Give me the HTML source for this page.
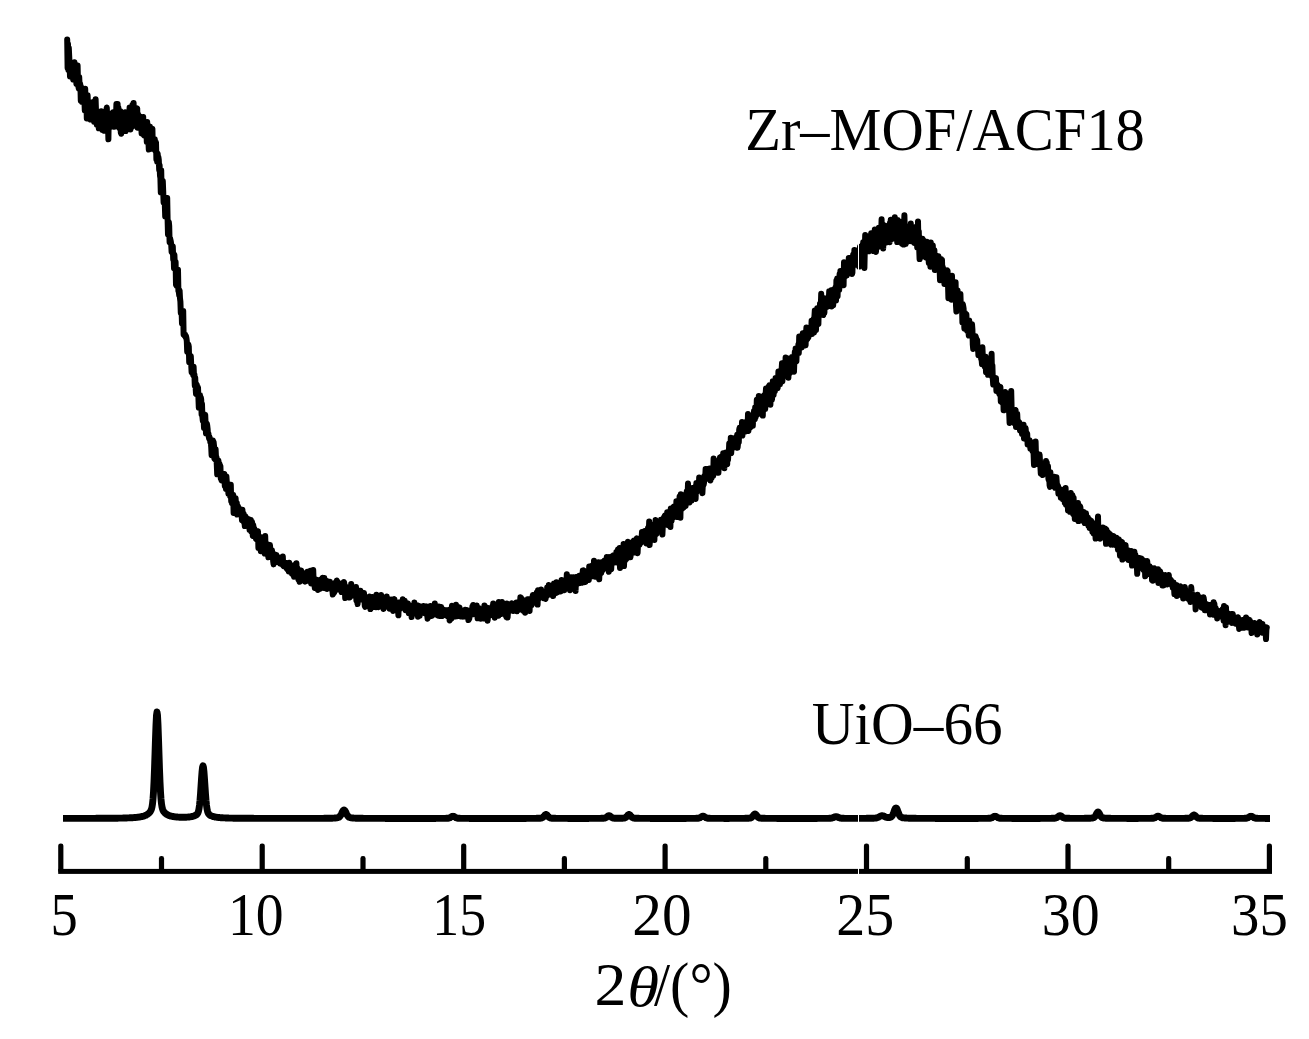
<!DOCTYPE html>
<html lang="en"><head><meta charset="utf-8"><title>XRD patterns</title>
<style>
html,body{margin:0;padding:0;background:#fff;}
body{width:1309px;height:1039px;overflow:hidden;}
svg{display:block;}
text{font-family:"Liberation Serif",serif;font-size:62px;fill:#000;}
</style></head><body>
<svg width="1309" height="1039" viewBox="0 0 1309 1039">
<rect width="1309" height="1039" fill="#fff"/>
<polyline fill="none" stroke="#000" stroke-width="6" stroke-linejoin="round" stroke-linecap="round" points="67.2,39.5 67.6,68.0 68.0,44.0 68.4,70.0 68.8,48.0 69.2,56.1 69.6,65.4 70.0,76.5 70.4,63.2 70.8,63.2 71.2,73.0 71.6,72.9 72.0,72.0 72.4,64.9 72.8,72.9 73.2,79.6 73.6,64.7 74.0,72.6 74.4,62.3 74.8,68.1 75.2,64.8 75.6,78.2 76.0,71.2 76.4,84.1 76.8,84.2 77.2,82.5 77.6,65.5 78.0,81.7 78.4,86.5 78.8,88.7 79.2,77.0 79.6,86.1 80.0,83.2 80.4,85.4 80.8,100.7 81.2,87.2 81.6,94.0 82.0,101.8 82.4,91.3 82.8,95.7 83.2,98.1 83.6,98.4 84.0,89.3 84.4,99.9 84.8,110.4 85.2,88.8 85.6,107.9 86.0,102.8 86.4,97.7 86.8,118.4 87.2,109.6 87.6,95.3 88.0,105.6 88.4,110.0 88.8,104.8 89.2,112.0 89.6,106.9 90.0,113.1 90.4,119.6 90.8,104.1 91.2,111.3 91.6,106.8 92.0,111.8 92.4,102.3 92.8,107.4 93.2,110.7 93.6,119.4 94.0,121.6 94.4,103.3 94.8,107.7 95.2,118.9 95.6,99.2 96.0,111.1 96.4,114.2 96.8,124.7 97.2,120.7 97.6,113.4 98.0,113.4 98.4,114.6 98.8,128.3 99.2,114.0 99.6,115.3 100.0,120.7 100.4,117.7 100.8,117.6 101.2,111.2 101.6,120.1 102.0,117.3 102.4,129.9 102.8,126.5 103.2,121.9 103.6,127.4 104.0,120.1 104.4,130.8 104.8,122.9 105.2,127.4 105.6,113.3 106.0,125.5 106.4,110.2 106.8,107.5 107.2,120.5 107.6,115.9 108.0,123.8 108.4,139.3 108.8,116.1 109.2,117.5 109.6,123.7 110.0,125.7 110.4,120.5 110.8,120.1 111.2,126.8 111.6,125.1 112.0,113.2 112.4,120.1 112.8,120.7 113.2,112.2 113.6,121.9 114.0,113.2 114.4,126.8 114.8,120.7 115.2,119.8 115.6,114.6 116.0,118.1 116.4,104.0 116.8,110.8 117.2,122.3 117.6,103.9 118.0,126.8 118.4,107.7 118.8,127.1 119.2,115.5 119.6,128.1 120.0,123.6 120.4,111.3 120.8,132.4 121.2,133.8 121.6,122.5 122.0,120.9 122.4,121.7 122.8,115.4 123.2,130.9 123.6,118.4 124.0,122.0 124.4,116.3 124.8,117.4 125.2,112.3 125.6,131.1 126.0,120.3 126.4,128.6 126.8,121.2 127.2,115.7 127.6,118.1 128.0,115.9 128.4,119.7 128.8,116.3 129.2,116.3 129.6,107.6 130.0,111.4 130.4,129.5 130.8,111.5 131.2,108.3 131.6,118.6 132.0,126.6 132.4,105.0 132.8,114.5 133.2,111.3 133.6,102.9 134.0,121.8 134.4,116.2 134.8,117.0 135.2,111.0 135.6,120.2 136.0,112.9 136.4,116.1 136.8,109.0 137.2,108.4 137.6,127.8 138.0,114.2 138.4,120.5 138.8,118.6 139.2,116.1 139.6,116.3 140.0,125.7 140.4,119.6 140.8,121.6 141.2,123.8 141.6,133.3 142.0,130.4 142.4,129.0 142.8,122.5 143.2,116.9 143.6,134.8 144.0,135.3 144.4,127.4 144.8,132.8 145.2,134.9 145.6,135.6 146.0,136.7 146.4,126.8 146.8,142.0 147.2,122.0 147.6,138.6 148.0,136.9 148.4,140.8 148.8,149.5 149.2,147.8 149.6,129.4 150.0,126.5 150.4,146.0 150.8,133.3 151.2,141.6 151.6,148.7 152.0,131.2 152.4,128.6 152.8,147.0 153.2,146.3 153.6,145.1 154.0,148.3 154.4,142.8 154.8,139.2 155.2,150.3 155.6,145.7 156.0,142.2 156.4,159.4 156.8,156.8 157.2,161.8 157.6,153.4 158.0,157.6 158.4,157.1 158.8,160.0 159.2,170.0 159.6,165.2 160.0,175.7 160.4,177.9 160.8,192.3 161.2,170.3 161.6,189.2 162.0,184.9 162.4,188.3 162.8,181.0 163.2,191.0 163.6,202.4 164.0,199.5 164.4,203.5 164.8,203.6 165.2,216.4 165.6,210.7 166.0,198.0 166.4,210.9 166.8,204.5 167.2,198.1 167.6,219.2 168.0,234.4 168.4,227.9 168.8,221.9 169.2,225.8 169.6,242.3 170.0,238.1 170.4,239.7 170.8,241.4 171.2,244.4 171.6,251.9 172.0,252.6 172.4,252.7 172.8,246.6 173.2,259.4 173.6,253.8 174.0,268.1 174.4,254.9 174.8,264.8 175.2,268.2 175.6,262.1 176.0,284.7 176.4,285.6 176.8,275.6 177.2,286.3 177.6,286.4 178.0,269.8 178.4,290.9 178.8,291.6 179.2,295.2 179.6,290.5 180.0,298.3 180.4,301.6 180.8,313.0 181.2,310.3 181.6,311.0 182.0,323.5 182.4,313.2 182.8,317.1 183.2,310.9 183.6,334.5 184.0,333.3 184.4,335.4 184.8,336.1 185.2,334.7 185.6,337.2 186.0,336.0 186.4,338.0 186.8,341.1 187.2,351.6 187.6,347.5 188.0,345.6 188.4,344.6 188.8,346.5 189.2,362.2 189.6,358.1 190.0,358.0 190.4,358.0 190.8,355.9 191.2,364.4 191.6,372.1 192.0,366.7 192.4,369.5 192.8,371.3 193.2,375.0 193.6,366.7 194.0,376.2 194.4,374.1 194.8,385.7 195.2,377.7 195.6,386.9 196.0,393.9 196.4,384.9 196.8,384.8 197.2,390.9 197.6,391.4 198.0,387.4 198.4,397.2 198.8,407.6 199.2,396.3 199.6,398.3 200.0,395.1 200.4,404.4 200.8,397.2 201.2,399.6 201.6,414.5 202.0,404.0 202.4,416.6 202.8,420.6 203.2,415.3 203.6,418.6 204.0,427.8 204.4,417.7 204.8,417.2 205.2,414.7 205.6,423.9 206.0,433.3 206.4,432.1 206.8,423.4 207.2,425.4 207.6,428.8 208.0,434.6 208.4,433.4 208.8,437.0 209.2,438.9 209.6,437.1 210.0,439.8 210.4,442.5 210.8,442.3 211.2,446.7 211.6,455.2 212.0,449.8 212.4,448.3 212.8,440.5 213.2,452.5 213.6,441.7 214.0,445.7 214.4,458.6 214.8,459.1 215.2,456.0 215.6,449.2 216.0,457.3 216.4,457.0 216.8,464.9 217.2,474.3 217.6,465.2 218.0,461.3 218.4,460.5 218.8,467.3 219.2,467.8 219.6,464.0 220.0,471.5 220.4,466.2 220.8,478.6 221.2,479.3 221.6,480.4 222.0,473.6 222.4,479.5 222.8,477.2 223.2,476.8 223.6,477.9 224.0,473.9 224.4,474.0 224.8,485.8 225.2,481.7 225.6,484.5 226.0,489.1 226.4,476.5 226.8,481.9 227.2,487.3 227.6,489.1 228.0,486.1 228.4,493.7 228.8,490.5 229.2,484.4 229.6,486.7 230.0,495.9 230.4,495.1 230.8,484.7 231.2,501.2 231.6,498.6 232.0,503.2 232.4,496.0 232.8,497.5 233.2,494.6 233.6,513.0 234.0,501.2 234.4,510.6 234.8,501.1 235.2,505.9 235.6,498.2 236.0,505.2 236.4,512.5 236.8,502.9 237.2,514.6 237.6,511.9 238.0,506.2 238.4,509.3 238.8,510.1 239.2,512.6 239.6,510.9 240.0,510.1 240.4,513.0 240.8,510.2 241.2,509.4 241.6,515.6 242.0,520.3 242.4,509.7 242.8,517.1 243.2,514.6 243.6,513.5 244.0,522.3 244.4,516.5 244.8,526.1 245.2,516.2 245.6,522.0 246.0,519.7 246.4,517.8 246.8,524.4 247.2,521.6 247.6,525.6 248.0,523.2 248.4,519.1 248.8,524.1 249.2,525.4 249.6,530.1 250.0,522.4 250.4,526.9 250.8,520.0 251.2,531.3 251.6,524.2 252.0,521.6 252.4,530.1 252.8,535.9 253.2,524.9 253.6,527.5 254.0,529.7 254.4,528.6 254.8,535.9 255.2,531.4 255.6,532.4 256.0,538.8 256.4,533.5 256.8,539.4 257.2,533.8 257.6,533.4 258.0,531.3 258.4,547.9 258.8,539.0 259.2,542.0 259.6,541.3 260.0,542.7 260.4,542.7 260.8,551.2 261.2,539.0 261.6,537.3 262.0,540.1 262.4,539.2 262.8,548.6 263.2,549.4 263.6,542.2 264.0,540.8 264.4,545.7 264.8,553.6 265.2,536.1 265.6,550.8 266.0,544.4 266.4,553.8 266.8,545.2 267.2,549.0 267.6,544.3 268.0,546.9 268.4,557.3 268.8,555.3 269.2,550.6 269.6,549.0 270.0,545.1 270.4,551.8 270.8,553.7 271.2,553.9 271.6,554.3 272.0,550.3 272.4,555.1 272.8,555.6 273.2,561.6 273.6,564.4 274.0,556.4 274.4,554.1 274.8,557.4 275.2,555.6 275.6,555.4 276.0,558.6 276.4,554.9 276.8,562.1 277.2,559.5 277.6,561.4 278.0,560.0 278.4,558.1 278.8,557.5 279.2,560.8 279.6,559.9 280.0,563.5 280.4,562.9 280.8,557.6 281.2,563.8 281.6,558.4 282.0,561.7 282.4,563.4 282.8,556.4 283.2,565.6 283.6,566.1 284.0,565.2 284.4,564.4 284.8,564.9 285.2,562.8 285.6,565.9 286.0,565.1 286.4,568.0 286.8,563.0 287.2,569.1 287.6,569.0 288.0,568.1 288.4,567.1 288.8,571.4 289.2,562.7 289.6,571.5 290.0,570.8 290.4,571.2 290.8,571.9 291.2,567.9 291.6,569.7 292.0,573.6 292.4,572.9 292.8,572.3 293.2,565.6 293.6,574.0 294.0,576.7 294.4,576.3 294.8,573.4 295.2,566.5 295.6,576.6 296.0,572.5 296.4,563.2 296.8,575.0 297.2,567.7 297.6,568.7 298.0,571.5 298.4,579.3 298.8,573.0 299.2,575.7 299.6,581.8 300.0,581.3 300.4,574.8 300.8,574.4 301.2,570.6 301.6,573.0 302.0,577.6 302.4,577.7 302.8,576.7 303.2,580.4 303.6,573.6 304.0,576.6 304.4,579.9 304.8,579.5 305.2,581.6 305.6,579.1 306.0,576.5 306.4,579.4 306.8,574.2 307.2,571.8 307.6,580.7 308.0,578.4 308.4,580.0 308.8,572.3 309.2,577.7 309.6,576.9 310.0,576.1 310.4,570.8 310.8,578.5 311.2,583.5 311.6,581.6 312.0,577.9 312.4,580.3 312.8,583.5 313.2,569.9 313.6,580.4 314.0,583.1 314.4,583.8 314.8,587.9 315.2,585.8 315.6,582.8 316.0,582.9 316.4,584.9 316.8,579.8 317.2,581.9 317.6,585.7 318.0,589.9 318.4,581.8 318.8,582.4 319.2,583.4 319.6,588.0 320.0,582.8 320.4,588.7 320.8,579.4 321.2,582.5 321.6,582.5 322.0,586.5 322.4,587.6 322.8,577.8 323.2,580.2 323.6,585.1 324.0,581.4 324.4,578.1 324.8,588.1 325.2,586.1 325.6,586.2 326.0,582.6 326.4,588.5 326.8,583.7 327.2,588.9 327.6,581.3 328.0,581.6 328.4,585.7 328.8,582.3 329.2,587.7 329.6,586.2 330.0,581.8 330.4,585.7 330.8,584.1 331.2,589.1 331.6,583.2 332.0,584.1 332.4,590.5 332.8,594.6 333.2,593.7 333.6,586.4 334.0,587.1 334.4,592.2 334.8,585.9 335.2,582.7 335.6,587.0 336.0,588.3 336.4,583.5 336.8,580.5 337.2,581.3 337.6,589.5 338.0,584.1 338.4,586.5 338.8,587.9 339.2,589.6 339.6,586.0 340.0,589.2 340.4,584.0 340.8,586.1 341.2,583.6 341.6,592.0 342.0,587.6 342.4,585.0 342.8,586.5 343.2,587.1 343.6,590.7 344.0,582.1 344.4,584.3 344.8,586.9 345.2,598.1 345.6,592.2 346.0,588.3 346.4,591.5 346.8,596.8 347.2,588.2 347.6,587.8 348.0,594.0 348.4,591.5 348.8,592.4 349.2,588.2 349.6,597.6 350.0,597.1 350.4,593.0 350.8,593.8 351.2,583.9 351.6,594.3 352.0,591.5 352.4,594.2 352.8,595.4 353.2,591.9 353.6,587.2 354.0,595.3 354.4,591.5 354.8,593.4 355.2,592.7 355.6,594.0 356.0,587.0 356.4,600.4 356.8,597.1 357.2,600.6 357.6,604.1 358.0,597.1 358.4,590.6 358.8,594.2 359.2,593.2 359.6,596.0 360.0,598.3 360.4,590.7 360.8,599.5 361.2,592.8 361.6,599.6 362.0,598.3 362.4,597.6 362.8,598.6 363.2,597.0 363.6,596.9 364.0,593.0 364.4,599.2 364.8,606.2 365.2,606.8 365.6,604.5 366.0,602.3 366.4,597.4 366.8,605.2 367.2,599.8 367.6,599.9 368.0,599.1 368.4,600.6 368.8,598.8 369.2,600.2 369.6,596.6 370.0,599.3 370.4,609.1 370.8,600.5 371.2,600.0 371.6,602.9 372.0,603.6 372.4,597.0 372.8,600.4 373.2,604.6 373.6,602.3 374.0,601.8 374.4,607.1 374.8,599.0 375.2,601.9 375.6,599.8 376.0,607.2 376.4,594.7 376.8,599.4 377.2,600.0 377.6,604.4 378.0,604.3 378.4,607.2 378.8,596.5 379.2,605.0 379.6,601.3 380.0,600.0 380.4,604.5 380.8,599.2 381.2,595.1 381.6,601.4 382.0,597.4 382.4,600.5 382.8,604.3 383.2,604.2 383.6,608.9 384.0,602.5 384.4,597.7 384.8,600.6 385.2,600.1 385.6,599.1 386.0,605.2 386.4,601.3 386.8,596.6 387.2,606.4 387.6,603.5 388.0,605.3 388.4,604.5 388.8,606.4 389.2,604.4 389.6,608.8 390.0,605.9 390.4,605.9 390.8,606.0 391.2,599.4 391.6,604.1 392.0,603.9 392.4,605.6 392.8,600.0 393.2,610.9 393.6,605.5 394.0,600.8 394.4,599.1 394.8,604.3 395.2,605.1 395.6,602.9 396.0,605.9 396.4,603.3 396.8,607.7 397.2,603.2 397.6,605.7 398.0,609.5 398.4,615.3 398.8,602.5 399.2,604.5 399.6,603.2 400.0,609.1 400.4,602.3 400.8,604.7 401.2,606.4 401.6,603.1 402.0,603.2 402.4,605.0 402.8,599.3 403.2,601.7 403.6,605.5 404.0,607.6 404.4,606.4 404.8,600.8 405.2,605.6 405.6,610.2 406.0,609.4 406.4,607.1 406.8,604.3 407.2,609.8 407.6,605.6 408.0,603.5 408.4,604.9 408.8,613.0 409.2,608.7 409.6,612.1 410.0,606.3 410.4,611.4 410.8,606.0 411.2,607.6 411.6,617.1 412.0,611.0 412.4,606.6 412.8,608.1 413.2,609.7 413.6,612.9 414.0,606.9 414.4,602.5 414.8,607.7 415.2,608.8 415.6,609.2 416.0,613.6 416.4,610.1 416.8,611.9 417.2,605.2 417.6,612.2 418.0,616.7 418.4,612.0 418.8,610.2 419.2,609.9 419.6,615.8 420.0,606.2 420.4,609.1 420.8,611.2 421.2,612.3 421.6,608.1 422.0,610.8 422.4,608.8 422.8,610.3 423.2,609.4 423.6,605.9 424.0,609.9 424.4,613.2 424.8,606.7 425.2,609.3 425.6,612.6 426.0,606.5 426.4,611.0 426.8,606.6 427.2,614.4 427.6,618.7 428.0,617.7 428.4,609.8 428.8,613.2 429.2,611.1 429.6,611.0 430.0,616.2 430.4,606.1 430.8,614.5 431.2,610.7 431.6,615.9 432.0,611.6 432.4,608.6 432.8,612.0 433.2,613.6 433.6,611.2 434.0,612.8 434.4,609.3 434.8,603.6 435.2,614.4 435.6,613.7 436.0,611.8 436.4,611.5 436.8,615.0 437.2,609.8 437.6,608.9 438.0,610.8 438.4,615.7 438.8,606.6 439.2,615.8 439.6,609.3 440.0,607.7 440.4,616.1 440.8,611.3 441.2,607.1 441.6,610.5 442.0,615.1 442.4,616.0 442.8,610.3 443.2,613.3 443.6,614.4 444.0,609.7 444.4,613.2 444.8,611.9 445.2,610.2 445.6,610.4 446.0,612.4 446.4,612.3 446.8,610.2 447.2,610.7 447.6,616.2 448.0,613.0 448.4,615.4 448.8,616.6 449.2,614.4 449.6,620.4 450.0,609.5 450.4,615.3 450.8,611.4 451.2,619.0 451.6,618.5 452.0,605.7 452.4,609.2 452.8,614.9 453.2,615.4 453.6,615.2 454.0,612.4 454.4,614.3 454.8,615.0 455.2,612.5 455.6,616.4 456.0,604.8 456.4,615.0 456.8,609.2 457.2,616.2 457.6,612.0 458.0,609.7 458.4,614.2 458.8,609.7 459.2,609.7 459.6,607.4 460.0,612.8 460.4,614.7 460.8,616.5 461.2,612.5 461.6,616.6 462.0,613.0 462.4,612.7 462.8,615.0 463.2,616.7 463.6,611.8 464.0,612.1 464.4,612.4 464.8,613.3 465.2,609.8 465.6,616.6 466.0,611.6 466.4,614.6 466.8,610.1 467.2,614.3 467.6,614.4 468.0,611.5 468.4,620.1 468.8,614.3 469.2,619.2 469.6,616.3 470.0,610.6 470.4,611.6 470.8,614.5 471.2,613.1 471.6,613.1 472.0,611.9 472.4,606.5 472.8,612.1 473.2,605.1 473.6,614.2 474.0,610.3 474.4,610.3 474.8,612.1 475.2,613.8 475.6,607.8 476.0,606.6 476.4,609.0 476.8,605.6 477.2,609.3 477.6,618.3 478.0,609.0 478.4,615.0 478.8,607.9 479.2,613.7 479.6,611.5 480.0,612.4 480.4,614.6 480.8,618.8 481.2,613.3 481.6,613.0 482.0,609.1 482.4,614.6 482.8,611.6 483.2,615.4 483.6,612.3 484.0,618.6 484.4,605.4 484.8,611.4 485.2,615.5 485.6,611.1 486.0,609.5 486.4,611.3 486.8,607.4 487.2,612.6 487.6,620.7 488.0,616.1 488.4,608.2 488.8,608.9 489.2,610.5 489.6,615.5 490.0,609.0 490.4,609.4 490.8,614.9 491.2,614.8 491.6,610.3 492.0,607.6 492.4,606.1 492.8,609.0 493.2,603.5 493.6,614.0 494.0,609.0 494.4,612.9 494.8,617.7 495.2,615.2 495.6,606.9 496.0,614.0 496.4,614.9 496.8,608.1 497.2,607.3 497.6,610.2 498.0,604.9 498.4,615.7 498.8,601.9 499.2,606.4 499.6,609.3 500.0,609.3 500.4,610.7 500.8,610.9 501.2,609.1 501.6,613.9 502.0,602.1 502.4,609.7 502.8,607.0 503.2,610.0 503.6,610.2 504.0,606.1 504.4,606.9 504.8,612.0 505.2,610.3 505.6,606.5 506.0,616.1 506.4,617.0 506.8,603.5 507.2,609.7 507.6,617.5 508.0,611.2 508.4,609.1 508.8,607.5 509.2,606.2 509.6,607.3 510.0,606.0 510.4,610.6 510.8,606.4 511.2,606.2 511.6,603.3 512.0,607.4 512.4,604.3 512.8,606.7 513.2,611.0 513.6,608.5 514.0,608.9 514.4,608.3 514.8,607.1 515.2,606.3 515.6,605.6 516.0,609.3 516.4,602.6 516.8,611.2 517.2,606.4 517.6,603.5 518.0,604.3 518.4,603.5 518.8,606.4 519.2,603.1 519.6,609.7 520.0,602.7 520.4,597.2 520.8,602.6 521.2,597.9 521.6,604.9 522.0,608.7 522.4,607.1 522.8,599.8 523.2,601.8 523.6,610.8 524.0,605.4 524.4,604.2 524.8,607.8 525.2,612.8 525.6,608.4 526.0,604.1 526.4,604.8 526.8,605.6 527.2,601.0 527.6,599.2 528.0,603.1 528.4,599.3 528.8,602.4 529.2,602.8 529.6,610.9 530.0,599.1 530.4,601.6 530.8,601.3 531.2,603.3 531.6,605.4 532.0,599.6 532.4,598.2 532.8,595.1 533.2,597.5 533.6,602.7 534.0,600.7 534.4,596.7 534.8,598.8 535.2,600.1 535.6,601.6 536.0,597.4 536.4,598.4 536.8,592.4 537.2,594.6 537.6,604.6 538.0,590.3 538.4,596.9 538.8,598.7 539.2,596.3 539.6,594.4 540.0,597.0 540.4,596.9 540.8,596.4 541.2,589.4 541.6,595.6 542.0,592.7 542.4,593.6 542.8,596.2 543.2,597.5 543.6,598.2 544.0,592.7 544.4,597.8 544.8,598.4 545.2,598.1 545.6,598.8 546.0,592.7 546.4,592.4 546.8,595.9 547.2,587.4 547.6,593.1 548.0,590.1 548.4,590.5 548.8,585.1 549.2,588.1 549.6,591.1 550.0,594.4 550.4,594.5 550.8,590.3 551.2,589.7 551.6,587.1 552.0,591.5 552.4,588.9 552.8,591.9 553.2,596.1 553.6,589.1 554.0,583.4 554.4,585.6 554.8,583.2 555.2,584.0 555.6,593.3 556.0,589.1 556.4,582.2 556.8,590.3 557.2,592.5 557.6,586.1 558.0,584.7 558.4,585.9 558.8,588.1 559.2,589.3 559.6,591.2 560.0,591.1 560.4,590.9 560.8,591.4 561.2,588.5 561.6,579.9 562.0,585.2 562.4,586.7 562.8,583.9 563.2,588.7 563.6,583.6 564.0,581.3 564.4,590.2 564.8,587.1 565.2,585.2 565.6,587.8 566.0,588.1 566.4,585.2 566.8,574.2 567.2,580.9 567.6,581.6 568.0,579.4 568.4,583.8 568.8,587.5 569.2,580.8 569.6,578.1 570.0,590.2 570.4,580.4 570.8,577.2 571.2,582.7 571.6,583.3 572.0,578.7 572.4,584.4 572.8,579.2 573.2,577.3 573.6,581.4 574.0,583.6 574.4,577.9 574.8,581.5 575.2,579.6 575.6,590.9 576.0,576.9 576.4,584.9 576.8,579.1 577.2,578.6 577.6,581.7 578.0,582.2 578.4,583.5 578.8,579.6 579.2,575.8 579.6,575.8 580.0,579.8 580.4,579.9 580.8,582.9 581.2,578.9 581.6,581.2 582.0,582.8 582.4,577.3 582.8,570.6 583.2,571.6 583.6,570.4 584.0,582.2 584.4,572.3 584.8,580.4 585.2,577.6 585.6,581.9 586.0,578.9 586.4,574.3 586.8,573.8 587.2,574.7 587.6,574.9 588.0,571.9 588.4,573.7 588.8,580.0 589.2,566.6 589.6,574.2 590.0,569.4 590.4,573.6 590.8,576.0 591.2,572.2 591.6,575.3 592.0,565.7 592.4,576.3 592.8,569.2 593.2,573.9 593.6,572.0 594.0,560.7 594.4,567.8 594.8,571.5 595.2,576.7 595.6,571.4 596.0,571.1 596.4,564.1 596.8,575.4 597.2,576.7 597.6,569.3 598.0,568.1 598.4,562.3 598.8,572.2 599.2,579.3 599.6,571.1 600.0,573.1 600.4,570.0 600.8,563.6 601.2,572.8 601.6,562.2 602.0,566.1 602.4,567.9 602.8,570.2 603.2,568.1 603.6,567.7 604.0,562.9 604.4,560.5 604.8,565.8 605.2,562.4 605.6,559.8 606.0,559.8 606.4,562.7 606.8,556.9 607.2,558.8 607.6,557.4 608.0,564.6 608.4,565.4 608.8,571.7 609.2,557.1 609.6,560.3 610.0,566.6 610.4,561.7 610.8,561.1 611.2,569.2 611.6,560.6 612.0,557.0 612.4,556.1 612.8,562.7 613.2,562.4 613.6,555.2 614.0,556.6 614.4,562.6 614.8,562.6 615.2,557.3 615.6,562.3 616.0,561.9 616.4,551.9 616.8,557.7 617.2,560.5 617.6,556.1 618.0,549.4 618.4,556.8 618.8,560.9 619.2,564.1 619.6,548.1 620.0,567.9 620.4,552.0 620.8,560.5 621.2,561.4 621.6,560.0 622.0,556.3 622.4,550.5 622.8,557.7 623.2,551.8 623.6,543.9 624.0,566.1 624.4,556.9 624.8,561.2 625.2,549.4 625.6,559.1 626.0,559.4 626.4,558.9 626.8,551.9 627.2,546.6 627.6,550.6 628.0,541.7 628.4,543.5 628.8,550.8 629.2,545.9 629.6,549.0 630.0,548.9 630.4,557.3 630.8,554.3 631.2,548.2 631.6,553.2 632.0,544.4 632.4,545.9 632.8,550.9 633.2,541.4 633.6,545.2 634.0,540.4 634.4,546.2 634.8,552.4 635.2,541.8 635.6,545.6 636.0,540.5 636.4,539.0 636.8,538.3 637.2,549.6 637.6,553.2 638.0,544.7 638.4,539.2 638.8,545.0 639.2,540.2 639.6,544.8 640.0,542.3 640.4,541.9 640.8,543.0 641.2,537.5 641.6,537.9 642.0,531.9 642.4,537.1 642.8,532.5 643.2,537.8 643.6,533.9 644.0,538.2 644.4,539.5 644.8,530.9 645.2,533.3 645.6,532.4 646.0,539.5 646.4,543.4 646.8,539.3 647.2,533.7 647.6,541.4 648.0,528.0 648.4,540.9 648.8,531.1 649.2,521.4 649.6,545.1 650.0,540.0 650.4,528.1 650.8,533.1 651.2,531.1 651.6,532.2 652.0,524.8 652.4,528.1 652.8,532.9 653.2,531.4 653.6,535.5 654.0,530.2 654.4,539.9 654.8,526.0 655.2,530.0 655.6,519.9 656.0,522.5 656.4,533.8 656.8,523.3 657.2,529.5 657.6,526.5 658.0,521.8 658.4,524.5 658.8,523.5 659.2,523.2 659.6,528.5 660.0,527.6 660.4,521.8 660.8,519.9 661.2,524.9 661.6,522.8 662.0,527.6 662.4,534.6 662.8,526.0 663.2,521.7 663.6,520.7 664.0,517.2 664.4,516.6 664.8,515.7 665.2,518.1 665.6,517.5 666.0,522.5 666.4,516.9 666.8,517.4 667.2,512.3 667.6,525.0 668.0,519.4 668.4,524.8 668.8,519.9 669.2,522.6 669.6,514.2 670.0,518.2 670.4,526.9 670.8,508.4 671.2,519.0 671.6,521.0 672.0,514.7 672.4,515.9 672.8,517.8 673.2,508.3 673.6,512.9 674.0,506.4 674.4,506.9 674.8,506.7 675.2,508.6 675.6,509.5 676.0,510.5 676.4,501.2 676.8,517.0 677.2,512.6 677.6,510.1 678.0,504.5 678.4,505.3 678.8,508.0 679.2,506.9 679.6,496.4 680.0,507.6 680.4,517.7 680.8,494.3 681.2,507.6 681.6,504.2 682.0,501.5 682.4,508.3 682.8,495.5 683.2,501.6 683.6,507.5 684.0,499.1 684.4,497.6 684.8,499.8 685.2,496.7 685.6,506.0 686.0,493.7 686.4,502.0 686.8,491.2 687.2,500.3 687.6,496.1 688.0,483.6 688.4,495.9 688.8,490.3 689.2,493.0 689.6,502.4 690.0,488.9 690.4,488.8 690.8,500.8 691.2,493.9 691.6,500.6 692.0,494.2 692.4,487.9 692.8,491.6 693.2,497.6 693.6,495.8 694.0,490.8 694.4,490.7 694.8,489.5 695.2,486.8 695.6,498.9 696.0,489.0 696.4,482.9 696.8,485.8 697.2,491.4 697.6,490.6 698.0,486.3 698.4,483.3 698.8,486.3 699.2,477.4 699.6,478.9 700.0,489.0 700.4,482.2 700.8,486.1 701.2,489.9 701.6,486.6 702.0,483.0 702.4,493.2 702.8,485.5 703.2,479.9 703.6,484.9 704.0,482.9 704.4,476.0 704.8,480.3 705.2,478.7 705.6,469.1 706.0,477.7 706.4,476.7 706.8,475.5 707.2,468.9 707.6,475.0 708.0,476.2 708.4,476.5 708.8,469.7 709.2,478.3 709.6,468.4 710.0,473.0 710.4,480.4 710.8,469.7 711.2,470.1 711.6,477.8 712.0,469.9 712.4,469.9 712.8,472.1 713.2,475.9 713.6,458.6 714.0,465.2 714.4,463.9 714.8,463.0 715.2,463.7 715.6,463.3 716.0,468.7 716.4,462.1 716.8,466.9 717.2,467.8 717.6,461.5 718.0,465.5 718.4,472.8 718.8,465.5 719.2,460.1 719.6,462.6 720.0,457.6 720.4,463.3 720.8,466.0 721.2,456.7 721.6,459.4 722.0,465.8 722.4,456.9 722.8,460.0 723.2,453.2 723.6,453.7 724.0,454.8 724.4,468.2 724.8,454.4 725.2,453.3 725.6,452.6 726.0,454.2 726.4,457.9 726.8,455.0 727.2,464.1 727.6,454.1 728.0,460.0 728.4,453.4 728.8,454.6 729.2,443.5 729.6,449.8 730.0,449.6 730.4,448.1 730.8,437.7 731.2,453.0 731.6,445.8 732.0,445.0 732.4,445.5 732.8,445.1 733.2,447.9 733.6,438.5 734.0,439.8 734.4,445.7 734.8,444.4 735.2,441.1 735.6,439.5 736.0,437.6 736.4,441.1 736.8,447.1 737.2,434.7 737.6,447.8 738.0,443.7 738.4,436.2 738.8,442.2 739.2,429.7 739.6,427.8 740.0,429.5 740.4,433.6 740.8,433.5 741.2,431.9 741.6,434.6 742.0,422.1 742.4,435.6 742.8,424.8 743.2,428.3 743.6,429.0 744.0,424.5 744.4,422.7 744.8,424.1 745.2,428.9 745.6,431.5 746.0,430.8 746.4,421.8 746.8,422.4 747.2,421.1 747.6,427.9 748.0,413.9 748.4,431.0 748.8,421.1 749.2,418.9 749.6,424.4 750.0,427.6 750.4,423.3 750.8,426.6 751.2,421.0 751.6,426.4 752.0,425.9 752.4,418.0 752.8,425.8 753.2,418.2 753.6,417.2 754.0,411.1 754.4,414.0 754.8,419.2 755.2,407.2 755.6,417.4 756.0,415.1 756.4,414.1 756.8,399.8 757.2,410.8 757.6,414.4 758.0,406.0 758.4,410.1 758.8,395.9 759.2,412.1 759.6,404.2 760.0,412.1 760.4,396.4 760.8,409.9 761.2,404.1 761.6,409.3 762.0,399.1 762.4,400.2 762.8,415.6 763.2,397.8 763.6,397.9 764.0,399.7 764.4,394.9 764.8,406.7 765.2,409.1 765.6,394.9 766.0,388.6 766.4,404.3 766.8,403.3 767.2,401.1 767.6,402.4 768.0,390.4 768.4,393.8 768.8,386.3 769.2,385.5 769.6,398.5 770.0,388.5 770.4,404.7 770.8,391.6 771.2,387.0 771.6,394.6 772.0,399.7 772.4,391.6 772.8,381.3 773.2,389.8 773.6,395.0 774.0,383.8 774.4,381.6 774.8,391.3 775.2,385.7 775.6,378.0 776.0,381.6 776.4,378.9 776.8,384.4 777.2,382.8 777.6,388.3 778.0,385.2 778.4,371.5 778.8,382.4 779.2,384.7 779.6,381.6 780.0,384.4 780.4,374.7 780.8,371.9 781.2,382.2 781.6,370.1 782.0,363.2 782.4,381.2 782.8,370.5 783.2,372.4 783.6,365.5 784.0,365.4 784.4,365.8 784.8,369.9 785.2,373.6 785.6,357.5 786.0,374.8 786.4,362.9 786.8,363.0 787.2,372.7 787.6,367.7 788.0,358.5 788.4,377.8 788.8,361.4 789.2,367.3 789.6,366.4 790.0,373.0 790.4,361.4 790.8,369.4 791.2,358.5 791.6,368.8 792.0,357.1 792.4,358.8 792.8,371.5 793.2,361.6 793.6,359.7 794.0,371.7 794.4,359.8 794.8,352.1 795.2,360.7 795.6,348.5 796.0,361.6 796.4,361.3 796.8,350.0 797.2,348.9 797.6,352.9 798.0,351.2 798.4,344.5 798.8,353.0 799.2,336.5 799.6,345.4 800.0,344.8 800.4,344.8 800.8,347.5 801.2,337.4 801.6,347.6 802.0,342.1 802.4,338.4 802.8,333.3 803.2,333.6 803.6,342.1 804.0,333.2 804.4,338.7 804.8,343.9 805.2,343.0 805.6,345.4 806.0,333.2 806.4,327.6 806.8,339.6 807.2,334.5 807.6,338.7 808.0,331.0 808.4,337.5 808.8,334.6 809.2,333.0 809.6,330.9 810.0,329.5 810.4,327.7 810.8,326.9 811.2,330.9 811.6,320.8 812.0,334.0 812.4,321.9 812.8,327.9 813.2,320.5 813.6,318.8 814.0,332.3 814.4,317.1 814.8,310.4 815.2,313.2 815.6,315.0 816.0,329.8 816.4,317.0 816.8,320.9 817.2,308.2 817.6,316.1 818.0,317.4 818.4,323.9 818.8,307.6 819.2,315.2 819.6,312.7 820.0,303.8 820.4,309.5 820.8,307.4 821.2,293.8 821.6,311.7 822.0,310.7 822.4,304.0 822.8,297.7 823.2,315.0 823.6,306.7 824.0,310.9 824.4,312.8 824.8,300.0 825.2,307.9 825.6,300.7 826.0,301.2 826.4,300.5 826.8,300.5 827.2,307.0 827.6,300.1 828.0,297.8 828.4,296.4 828.8,299.8 829.2,291.3 829.6,293.3 830.0,295.6 830.4,291.7 830.8,293.9 831.2,290.2 831.6,306.4 832.0,301.4 832.4,295.2 832.8,291.4 833.2,305.2 833.6,292.6 834.0,289.3 834.4,291.2 834.8,290.6 835.2,297.1 835.6,287.3 836.0,300.4 836.4,280.5 836.8,290.1 837.2,278.5 837.6,296.1 838.0,281.6 838.4,282.8 838.8,288.5 839.2,290.1 839.6,274.1 840.0,278.4 840.4,271.0 840.8,280.4 841.2,278.2 841.6,276.0 842.0,273.2 842.4,274.6 842.8,271.7 843.2,279.4 843.6,285.3 844.0,262.2 844.4,273.5 844.8,270.9 845.2,276.3 845.6,266.3 846.0,271.0 846.4,264.6 846.8,275.5 847.2,271.0 847.6,268.7 848.0,271.7 848.4,267.1 848.8,257.9 849.2,271.5 849.6,269.0 850.0,265.5 850.4,272.5 850.8,273.5 851.2,257.7 851.6,259.2 852.0,274.0 852.4,272.7 852.8,257.9 853.2,254.4 853.6,257.5 854.0,257.9 854.4,250.1 854.8,260.4 855.2,251.1 855.6,251.1 856.0,264.7 856.4,253.6 856.8,257.2 857.2,261.4 857.6,262.1 858.0,254.0 858.4,256.1 858.8,249.8 859.2,266.6 859.6,258.8 860.0,246.7 860.4,253.6 860.8,258.0 861.2,256.0 861.6,264.6 862.0,261.2 862.4,248.0 862.8,250.6 863.2,242.3 863.6,252.2 864.0,251.1 864.4,267.9 864.8,250.0 865.2,235.0 865.6,244.2 866.0,249.1 866.4,239.5 866.8,241.8 867.2,244.9 867.6,249.3 868.0,245.5 868.4,240.3 868.8,251.3 869.2,242.0 869.6,242.0 870.0,235.7 870.4,239.4 870.8,248.8 871.2,233.2 871.6,243.3 872.0,248.3 872.4,240.6 872.8,244.5 873.2,235.0 873.6,251.1 874.0,249.4 874.4,243.2 874.8,229.4 875.2,233.9 875.6,247.3 876.0,252.0 876.4,242.1 876.8,248.2 877.2,235.3 877.6,237.8 878.0,238.8 878.4,241.3 878.8,227.7 879.2,244.1 879.6,246.3 880.0,229.2 880.4,227.4 880.8,238.6 881.2,231.4 881.6,219.3 882.0,240.6 882.4,235.8 882.8,231.1 883.2,248.4 883.6,234.5 884.0,228.1 884.4,233.6 884.8,225.4 885.2,227.0 885.6,234.5 886.0,227.8 886.4,228.2 886.8,242.4 887.2,236.6 887.6,236.0 888.0,233.8 888.4,233.3 888.8,239.8 889.2,229.5 889.6,242.2 890.0,222.8 890.4,227.5 890.8,219.7 891.2,226.7 891.6,232.6 892.0,238.9 892.4,224.5 892.8,229.0 893.2,226.6 893.6,224.0 894.0,220.9 894.4,229.5 894.8,217.2 895.2,229.9 895.6,229.3 896.0,224.7 896.4,222.3 896.8,219.8 897.2,242.1 897.6,220.1 898.0,240.0 898.4,233.5 898.8,227.0 899.2,221.6 899.6,236.7 900.0,241.5 900.4,223.3 900.8,227.7 901.2,237.0 901.6,232.2 902.0,243.6 902.4,226.1 902.8,233.8 903.2,221.6 903.6,244.6 904.0,225.3 904.4,215.3 904.8,229.6 905.2,229.6 905.6,243.8 906.0,228.5 906.4,230.8 906.8,235.0 907.2,241.9 907.6,230.7 908.0,238.4 908.4,235.0 908.8,229.7 909.2,232.4 909.6,232.3 910.0,226.1 910.4,241.0 910.8,223.5 911.2,241.3 911.6,240.1 912.0,233.3 912.4,229.1 912.8,233.2 913.2,238.3 913.6,240.6 914.0,237.9 914.4,243.1 914.8,233.0 915.2,238.8 915.6,227.0 916.0,243.3 916.4,239.6 916.8,236.2 917.2,247.4 917.6,244.6 918.0,221.4 918.4,241.2 918.8,231.5 919.2,249.1 919.6,259.1 920.0,239.3 920.4,243.7 920.8,242.0 921.2,246.5 921.6,248.9 922.0,253.7 922.4,238.8 922.8,256.4 923.2,240.0 923.6,248.6 924.0,255.0 924.4,252.4 924.8,241.8 925.2,243.8 925.6,245.9 926.0,249.1 926.4,257.6 926.8,241.7 927.2,254.0 927.6,255.4 928.0,255.6 928.4,255.4 928.8,262.9 929.2,256.5 929.6,259.5 930.0,258.0 930.4,266.7 930.8,242.6 931.2,264.3 931.6,254.6 932.0,254.9 932.4,250.9 932.8,245.4 933.2,255.9 933.6,254.4 934.0,262.7 934.4,250.2 934.8,270.0 935.2,262.9 935.6,260.0 936.0,257.5 936.4,257.5 936.8,255.8 937.2,260.3 937.6,264.5 938.0,263.8 938.4,256.2 938.8,264.4 939.2,260.8 939.6,268.4 940.0,280.2 940.4,272.6 940.8,267.1 941.2,259.0 941.6,261.0 942.0,259.9 942.4,276.3 942.8,267.2 943.2,273.3 943.6,269.4 944.0,274.7 944.4,283.9 944.8,270.9 945.2,273.9 945.6,271.5 946.0,283.1 946.4,271.4 946.8,271.4 947.2,270.4 947.6,271.0 948.0,283.9 948.4,298.2 948.8,275.8 949.2,289.1 949.6,285.3 950.0,277.3 950.4,283.3 950.8,284.4 951.2,282.1 951.6,299.8 952.0,275.8 952.4,291.3 952.8,291.8 953.2,286.7 953.6,292.1 954.0,297.6 954.4,293.7 954.8,296.3 955.2,298.8 955.6,282.2 956.0,305.5 956.4,311.5 956.8,304.1 957.2,305.1 957.6,290.6 958.0,299.7 958.4,296.2 958.8,298.5 959.2,309.3 959.6,299.0 960.0,304.2 960.4,293.9 960.8,305.9 961.2,308.4 961.6,304.3 962.0,305.2 962.4,322.5 962.8,304.0 963.2,306.0 963.6,308.4 964.0,322.0 964.4,328.6 964.8,318.5 965.2,312.9 965.6,315.6 966.0,325.9 966.4,314.5 966.8,330.2 967.2,330.9 967.6,323.5 968.0,328.0 968.4,329.6 968.8,335.5 969.2,320.4 969.6,335.2 970.0,326.6 970.4,325.1 970.8,331.5 971.2,330.6 971.6,326.8 972.0,324.1 972.4,329.2 972.8,344.8 973.2,348.9 973.6,341.9 974.0,346.1 974.4,336.8 974.8,340.4 975.2,343.6 975.6,336.2 976.0,337.7 976.4,345.2 976.8,343.6 977.2,340.0 977.6,349.6 978.0,346.6 978.4,355.2 978.8,349.9 979.2,348.9 979.6,352.4 980.0,351.4 980.4,349.3 980.8,351.7 981.2,359.4 981.6,359.5 982.0,364.2 982.4,347.2 982.8,355.8 983.2,356.4 983.6,360.7 984.0,357.8 984.4,358.2 984.8,366.6 985.2,363.8 985.6,356.7 986.0,372.2 986.4,371.0 986.8,362.5 987.2,371.5 987.6,363.1 988.0,374.8 988.4,367.7 988.8,365.0 989.2,368.3 989.6,366.8 990.0,373.1 990.4,373.8 990.8,373.7 991.2,371.1 991.6,353.8 992.0,376.4 992.4,365.6 992.8,378.7 993.2,384.6 993.6,380.4 994.0,377.3 994.4,379.3 994.8,380.3 995.2,378.7 995.6,379.2 996.0,378.0 996.4,390.9 996.8,384.7 997.2,391.0 997.6,384.8 998.0,387.4 998.4,386.7 998.8,391.1 999.2,393.9 999.6,391.3 1000.0,386.8 1000.4,386.9 1000.8,401.5 1001.2,391.2 1001.6,391.9 1002.0,402.5 1002.4,401.1 1002.8,398.7 1003.2,394.1 1003.6,410.3 1004.0,400.0 1004.4,401.5 1004.8,398.2 1005.2,391.9 1005.6,393.0 1006.0,403.5 1006.4,404.1 1006.8,401.2 1007.2,396.7 1007.6,395.9 1008.0,402.8 1008.4,397.1 1008.8,410.9 1009.2,413.0 1009.6,423.0 1010.0,412.8 1010.4,405.3 1010.8,404.5 1011.2,390.9 1011.6,407.3 1012.0,410.3 1012.4,417.3 1012.8,416.0 1013.2,416.6 1013.6,415.2 1014.0,418.3 1014.4,423.3 1014.8,410.3 1015.2,414.3 1015.6,409.9 1016.0,427.0 1016.4,426.0 1016.8,423.7 1017.2,413.8 1017.6,422.0 1018.0,420.6 1018.4,423.0 1018.8,422.3 1019.2,426.9 1019.6,422.7 1020.0,430.3 1020.4,427.7 1020.8,425.6 1021.2,427.4 1021.6,426.4 1022.0,433.9 1022.4,428.9 1022.8,432.7 1023.2,429.8 1023.6,424.8 1024.0,438.3 1024.4,428.7 1024.8,438.7 1025.2,438.1 1025.6,427.9 1026.0,432.4 1026.4,435.5 1026.8,434.7 1027.2,433.5 1027.6,444.4 1028.0,440.0 1028.4,444.1 1028.8,440.5 1029.2,445.1 1029.6,440.3 1030.0,444.9 1030.4,448.8 1030.8,446.7 1031.2,444.8 1031.6,442.2 1032.0,449.4 1032.4,451.1 1032.8,448.6 1033.2,446.7 1033.6,454.2 1034.0,464.9 1034.4,451.2 1034.8,455.2 1035.2,456.1 1035.6,441.6 1036.0,456.2 1036.4,452.6 1036.8,464.0 1037.2,456.3 1037.6,454.2 1038.0,457.8 1038.4,460.4 1038.8,457.4 1039.2,460.6 1039.6,454.6 1040.0,461.1 1040.4,466.8 1040.8,473.5 1041.2,467.7 1041.6,466.2 1042.0,471.4 1042.4,471.2 1042.8,475.1 1043.2,472.8 1043.6,467.3 1044.0,469.9 1044.4,470.1 1044.8,471.3 1045.2,471.4 1045.6,467.1 1046.0,461.1 1046.4,468.9 1046.8,462.8 1047.2,473.8 1047.6,474.1 1048.0,466.3 1048.4,478.7 1048.8,480.2 1049.2,477.0 1049.6,485.3 1050.0,486.9 1050.4,472.3 1050.8,483.9 1051.2,481.6 1051.6,482.0 1052.0,485.1 1052.4,477.6 1052.8,478.8 1053.2,478.2 1053.6,479.1 1054.0,482.8 1054.4,476.8 1054.8,479.3 1055.2,487.8 1055.6,485.1 1056.0,487.9 1056.4,477.3 1056.8,483.2 1057.2,484.9 1057.6,488.2 1058.0,485.7 1058.4,493.6 1058.8,489.3 1059.2,490.2 1059.6,490.7 1060.0,494.5 1060.4,489.3 1060.8,497.5 1061.2,494.8 1061.6,493.8 1062.0,493.7 1062.4,496.5 1062.8,499.4 1063.2,499.5 1063.6,497.2 1064.0,500.1 1064.4,496.9 1064.8,502.8 1065.2,497.2 1065.6,487.9 1066.0,504.6 1066.4,499.2 1066.8,493.6 1067.2,498.6 1067.6,495.9 1068.0,510.4 1068.4,503.3 1068.8,494.0 1069.2,504.4 1069.6,500.4 1070.0,511.8 1070.4,498.2 1070.8,493.0 1071.2,504.4 1071.6,502.8 1072.0,503.0 1072.4,495.3 1072.8,507.8 1073.2,514.1 1073.6,497.7 1074.0,512.6 1074.4,504.8 1074.8,518.9 1075.2,510.4 1075.6,507.9 1076.0,514.4 1076.4,512.1 1076.8,507.3 1077.2,513.8 1077.6,508.5 1078.0,503.0 1078.4,521.1 1078.8,510.5 1079.2,509.7 1079.6,514.5 1080.0,506.2 1080.4,507.5 1080.8,511.9 1081.2,512.2 1081.6,515.3 1082.0,520.6 1082.4,513.6 1082.8,518.5 1083.2,519.3 1083.6,512.0 1084.0,518.4 1084.4,513.5 1084.8,523.0 1085.2,520.6 1085.6,519.0 1086.0,513.2 1086.4,520.2 1086.8,516.6 1087.2,523.6 1087.6,520.3 1088.0,517.5 1088.4,525.7 1088.8,525.2 1089.2,519.6 1089.6,527.9 1090.0,521.7 1090.4,522.0 1090.8,524.3 1091.2,520.7 1091.6,522.4 1092.0,524.0 1092.4,532.0 1092.8,532.2 1093.2,524.6 1093.6,533.3 1094.0,526.3 1094.4,528.5 1094.8,531.1 1095.2,528.8 1095.6,538.6 1096.0,529.2 1096.4,523.1 1096.8,534.6 1097.2,527.2 1097.6,528.0 1098.0,516.4 1098.4,534.5 1098.8,534.0 1099.2,534.2 1099.6,535.3 1100.0,538.8 1100.4,531.4 1100.8,536.1 1101.2,528.9 1101.6,531.0 1102.0,537.5 1102.4,534.9 1102.8,527.6 1103.2,535.4 1103.6,533.3 1104.0,530.8 1104.4,536.7 1104.8,533.3 1105.2,528.5 1105.6,530.8 1106.0,543.8 1106.4,529.7 1106.8,537.6 1107.2,539.6 1107.6,540.0 1108.0,532.2 1108.4,536.5 1108.8,538.8 1109.2,542.0 1109.6,536.0 1110.0,534.0 1110.4,543.8 1110.8,544.5 1111.2,541.6 1111.6,537.7 1112.0,542.4 1112.4,541.4 1112.8,544.8 1113.2,536.1 1113.6,542.3 1114.0,541.4 1114.4,537.6 1114.8,543.6 1115.2,543.2 1115.6,541.5 1116.0,545.3 1116.4,537.8 1116.8,544.0 1117.2,546.4 1117.6,546.0 1118.0,549.8 1118.4,540.3 1118.8,539.3 1119.2,547.1 1119.6,548.3 1120.0,555.7 1120.4,549.6 1120.8,543.5 1121.2,551.0 1121.6,544.3 1122.0,541.9 1122.4,559.6 1122.8,550.2 1123.2,552.2 1123.6,551.9 1124.0,557.5 1124.4,551.3 1124.8,555.6 1125.2,546.4 1125.6,545.2 1126.0,557.5 1126.4,558.0 1126.8,554.2 1127.2,553.4 1127.6,553.4 1128.0,550.2 1128.4,559.9 1128.8,556.5 1129.2,556.2 1129.6,556.0 1130.0,559.1 1130.4,557.2 1130.8,558.5 1131.2,550.9 1131.6,558.2 1132.0,565.6 1132.4,554.6 1132.8,556.6 1133.2,561.2 1133.6,561.8 1134.0,560.7 1134.4,551.7 1134.8,560.9 1135.2,554.2 1135.6,556.0 1136.0,562.0 1136.4,558.9 1136.8,563.8 1137.2,573.8 1137.6,564.3 1138.0,564.4 1138.4,558.0 1138.8,559.4 1139.2,558.0 1139.6,560.5 1140.0,558.5 1140.4,560.6 1140.8,562.8 1141.2,559.8 1141.6,558.5 1142.0,559.0 1142.4,566.7 1142.8,565.4 1143.2,569.7 1143.6,570.1 1144.0,564.7 1144.4,569.2 1144.8,560.9 1145.2,576.3 1145.6,572.2 1146.0,566.8 1146.4,563.3 1146.8,569.8 1147.2,561.0 1147.6,565.7 1148.0,572.2 1148.4,569.8 1148.8,567.8 1149.2,573.9 1149.6,566.2 1150.0,571.8 1150.4,569.0 1150.8,567.9 1151.2,573.4 1151.6,567.9 1152.0,579.8 1152.4,570.1 1152.8,580.7 1153.2,568.7 1153.6,575.7 1154.0,568.8 1154.4,568.5 1154.8,574.8 1155.2,577.1 1155.6,569.7 1156.0,579.7 1156.4,572.1 1156.8,576.1 1157.2,577.3 1157.6,578.5 1158.0,569.3 1158.4,583.0 1158.8,579.1 1159.2,575.5 1159.6,573.4 1160.0,571.1 1160.4,572.6 1160.8,580.4 1161.2,577.2 1161.6,574.3 1162.0,577.0 1162.4,585.4 1162.8,578.3 1163.2,577.5 1163.6,585.4 1164.0,582.2 1164.4,580.8 1164.8,578.5 1165.2,575.1 1165.6,576.8 1166.0,579.8 1166.4,581.0 1166.8,583.5 1167.2,584.5 1167.6,583.5 1168.0,583.7 1168.4,579.2 1168.8,575.0 1169.2,581.6 1169.6,580.2 1170.0,581.6 1170.4,583.3 1170.8,579.8 1171.2,580.6 1171.6,584.7 1172.0,585.8 1172.4,583.1 1172.8,587.8 1173.2,585.3 1173.6,582.5 1174.0,586.8 1174.4,594.1 1174.8,584.5 1175.2,591.8 1175.6,592.8 1176.0,593.5 1176.4,584.9 1176.8,596.0 1177.2,589.0 1177.6,587.8 1178.0,588.1 1178.4,591.5 1178.8,589.7 1179.2,589.0 1179.6,594.8 1180.0,587.4 1180.4,586.4 1180.8,593.6 1181.2,593.5 1181.6,595.2 1182.0,587.3 1182.4,595.6 1182.8,593.6 1183.2,598.6 1183.6,587.5 1184.0,593.3 1184.4,591.7 1184.8,586.9 1185.2,590.5 1185.6,597.6 1186.0,591.9 1186.4,591.2 1186.8,597.3 1187.2,598.0 1187.6,598.3 1188.0,591.8 1188.4,594.8 1188.8,599.1 1189.2,593.1 1189.6,593.0 1190.0,599.1 1190.4,602.1 1190.8,592.2 1191.2,587.1 1191.6,591.6 1192.0,593.5 1192.4,597.0 1192.8,600.0 1193.2,597.4 1193.6,595.7 1194.0,599.1 1194.4,595.2 1194.8,598.8 1195.2,596.9 1195.6,609.4 1196.0,602.8 1196.4,597.0 1196.8,596.6 1197.2,598.9 1197.6,594.8 1198.0,598.4 1198.4,598.6 1198.8,604.8 1199.2,600.3 1199.6,599.2 1200.0,597.5 1200.4,598.3 1200.8,602.6 1201.2,602.3 1201.6,607.5 1202.0,601.3 1202.4,607.7 1202.8,605.0 1203.2,604.3 1203.6,597.3 1204.0,600.2 1204.4,607.7 1204.8,610.3 1205.2,606.3 1205.6,608.5 1206.0,604.5 1206.4,604.9 1206.8,604.1 1207.2,610.2 1207.6,608.1 1208.0,606.3 1208.4,606.2 1208.8,609.6 1209.2,609.0 1209.6,605.1 1210.0,614.4 1210.4,609.4 1210.8,608.8 1211.2,614.2 1211.6,612.8 1212.0,609.1 1212.4,611.5 1212.8,606.0 1213.2,607.8 1213.6,602.2 1214.0,614.8 1214.4,604.0 1214.8,613.3 1215.2,608.2 1215.6,607.9 1216.0,610.8 1216.4,612.7 1216.8,614.1 1217.2,618.4 1217.6,613.6 1218.0,615.7 1218.4,610.7 1218.8,615.5 1219.2,613.7 1219.6,611.7 1220.0,613.2 1220.4,613.5 1220.8,614.6 1221.2,615.6 1221.6,612.6 1222.0,611.9 1222.4,617.3 1222.8,609.0 1223.2,612.9 1223.6,620.7 1224.0,606.0 1224.4,613.2 1224.8,618.2 1225.2,610.3 1225.6,625.2 1226.0,607.4 1226.4,621.5 1226.8,622.1 1227.2,620.0 1227.6,616.3 1228.0,618.4 1228.4,614.3 1228.8,620.3 1229.2,613.8 1229.6,616.9 1230.0,621.5 1230.4,614.4 1230.8,617.1 1231.2,619.1 1231.6,614.1 1232.0,622.9 1232.4,620.2 1232.8,614.0 1233.2,619.2 1233.6,616.8 1234.0,617.4 1234.4,620.1 1234.8,617.5 1235.2,623.4 1235.6,617.9 1236.0,623.8 1236.4,620.4 1236.8,623.7 1237.2,619.1 1237.6,619.3 1238.0,617.3 1238.4,623.3 1238.8,624.7 1239.2,628.9 1239.6,626.2 1240.0,622.8 1240.4,621.4 1240.8,623.6 1241.2,622.4 1241.6,627.6 1242.0,626.0 1242.4,620.1 1242.8,620.7 1243.2,627.8 1243.6,624.4 1244.0,622.7 1244.4,627.7 1244.8,622.5 1245.2,623.0 1245.6,622.5 1246.0,617.6 1246.4,627.3 1246.8,620.5 1247.2,622.8 1247.6,622.3 1248.0,627.4 1248.4,624.9 1248.8,625.3 1249.2,619.8 1249.6,625.2 1250.0,620.7 1250.4,626.9 1250.8,627.2 1251.2,626.1 1251.6,633.1 1252.0,628.2 1252.4,628.6 1252.8,627.2 1253.2,626.2 1253.6,630.2 1254.0,630.9 1254.4,623.0 1254.8,631.0 1255.2,629.4 1255.6,631.0 1256.0,629.5 1256.4,624.0 1256.8,624.5 1257.2,634.5 1257.6,629.5 1258.0,624.2 1258.4,630.2 1258.8,628.0 1259.2,623.3 1259.6,622.0 1260.0,624.5 1260.4,630.8 1260.8,629.9 1261.2,629.4 1261.6,631.4 1262.0,632.6 1262.4,623.9 1262.8,630.0 1263.2,628.5 1263.6,627.3 1264.0,629.8 1264.4,631.4 1264.8,631.1 1265.2,627.4 1265.6,630.8 1266.0,639.1 1266.4,629.3 1266.8,627.4"/>
<polyline fill="none" stroke="#000" stroke-width="6.9" stroke-linejoin="round" stroke-linecap="butt" points="63.0,818.4 63.5,818.4 64.0,818.4 64.5,818.4 65.0,818.4 65.5,818.4 66.0,818.4 66.5,818.4 67.0,818.4 67.5,818.4 68.0,818.4 68.5,818.4 69.0,818.4 69.5,818.4 70.0,818.4 70.5,818.4 71.0,818.4 71.5,818.4 72.0,818.4 72.5,818.4 73.0,818.4 73.5,818.4 74.0,818.4 74.5,818.4 75.0,818.4 75.5,818.4 76.0,818.4 76.5,818.4 77.0,818.4 77.5,818.4 78.0,818.4 78.5,818.4 79.0,818.4 79.5,818.4 80.0,818.4 80.5,818.4 81.0,818.4 81.5,818.4 82.0,818.4 82.5,818.4 83.0,818.4 83.5,818.4 84.0,818.4 84.5,818.4 85.0,818.4 85.5,818.4 86.0,818.4 86.5,818.4 87.0,818.4 87.5,818.4 88.0,818.4 88.5,818.4 89.0,818.4 89.5,818.4 90.0,818.4 90.5,818.4 91.0,818.4 91.5,818.4 92.0,818.4 92.5,818.4 93.0,818.4 93.5,818.4 94.0,818.4 94.5,818.4 95.0,818.4 95.5,818.4 96.0,818.3 96.5,818.3 97.0,818.3 97.5,818.3 98.0,818.3 98.5,818.3 99.0,818.3 99.5,818.3 100.0,818.3 100.5,818.3 101.0,818.3 101.5,818.3 102.0,818.3 102.5,818.3 103.0,818.3 103.5,818.3 104.0,818.3 104.5,818.3 105.0,818.3 105.5,818.3 106.0,818.3 106.5,818.3 107.0,818.3 107.5,818.3 108.0,818.3 108.5,818.3 109.0,818.3 109.5,818.3 110.0,818.3 110.5,818.3 111.0,818.2 111.5,818.2 112.0,818.2 112.5,818.2 113.0,818.2 113.5,818.2 114.0,818.2 114.5,818.2 115.0,818.2 115.5,818.2 116.0,818.2 116.5,818.2 117.0,818.2 117.5,818.2 118.0,818.2 118.5,818.1 119.0,818.1 119.5,818.1 120.0,818.1 120.5,818.1 121.0,818.1 121.5,818.1 122.0,818.1 122.5,818.1 123.0,818.1 123.5,818.0 124.0,818.0 124.5,818.0 125.0,818.0 125.5,818.0 126.0,818.0 126.5,818.0 127.0,817.9 127.5,817.9 128.0,817.9 128.5,817.9 129.0,817.9 129.5,817.8 130.0,817.8 130.5,817.8 131.0,817.8 131.5,817.7 132.0,817.7 132.5,817.7 133.0,817.7 133.5,817.6 134.0,817.6 134.5,817.5 135.0,817.5 135.5,817.5 136.0,817.4 136.5,817.4 137.0,817.3 137.5,817.3 138.0,817.2 138.5,817.1 139.0,817.1 139.5,817.0 140.0,816.9 140.5,816.8 141.0,816.7 141.5,816.6 142.0,816.5 142.5,816.4 143.0,816.3 143.5,816.1 144.0,816.0 144.5,815.8 145.0,815.6 145.5,815.4 146.0,815.2 146.5,814.9 147.0,814.6 147.5,814.3 148.0,813.9 148.5,813.5 149.0,813.1 149.5,812.6 150.0,812.0 150.5,811.3 151.0,810.3 151.5,809.0 152.0,807.0 152.5,803.9 153.0,799.1 153.5,791.9 154.0,781.9 154.5,769.1 155.0,754.1 155.5,738.6 156.0,724.9 156.5,715.3 157.0,711.9 157.5,715.3 158.0,724.8 158.5,738.6 159.0,754.1 159.5,769.1 160.0,781.9 160.5,791.9 161.0,799.0 161.5,803.8 162.0,806.9 162.5,808.9 163.0,810.3 163.5,811.2 164.0,811.9 164.5,812.5 165.0,813.0 165.5,813.5 166.0,813.8 166.5,814.2 167.0,814.5 167.5,814.8 168.0,815.0 168.5,815.3 169.0,815.5 169.5,815.7 170.0,815.8 170.5,816.0 171.0,816.1 171.5,816.2 172.0,816.3 172.5,816.4 173.0,816.5 173.5,816.6 174.0,816.7 174.5,816.8 175.0,816.8 175.5,816.9 176.0,816.9 176.5,817.0 177.0,817.0 177.5,817.1 178.0,817.1 178.5,817.1 179.0,817.2 179.5,817.2 180.0,817.2 180.5,817.2 181.0,817.2 181.5,817.2 182.0,817.2 182.5,817.3 183.0,817.3 183.5,817.3 184.0,817.2 184.5,817.2 185.0,817.2 185.5,817.2 186.0,817.2 186.5,817.2 187.0,817.1 187.5,817.1 188.0,817.1 188.5,817.0 189.0,817.0 189.5,816.9 190.0,816.9 190.5,816.8 191.0,816.7 191.5,816.6 192.0,816.5 192.5,816.4 193.0,816.3 193.5,816.1 194.0,815.9 194.5,815.8 195.0,815.5 195.5,815.3 196.0,815.0 196.5,814.7 197.0,814.2 197.5,813.6 198.0,812.6 198.5,811.1 199.0,808.7 199.5,805.2 200.0,800.3 200.5,793.9 201.0,786.6 201.5,778.9 202.0,772.2 202.5,767.5 203.0,765.8 203.5,767.5 204.0,772.2 204.5,779.0 205.0,786.6 205.5,794.0 206.0,800.3 206.5,805.2 207.0,808.8 207.5,811.1 208.0,812.7 208.5,813.7 209.0,814.3 209.5,814.8 210.0,815.2 210.5,815.5 211.0,815.7 211.5,815.9 212.0,816.1 212.5,816.3 213.0,816.5 213.5,816.6 214.0,816.7 214.5,816.9 215.0,817.0 215.5,817.1 216.0,817.1 216.5,817.2 217.0,817.3 217.5,817.4 218.0,817.4 218.5,817.5 219.0,817.5 219.5,817.6 220.0,817.6 220.5,817.7 221.0,817.7 221.5,817.7 222.0,817.8 222.5,817.8 223.0,817.8 223.5,817.9 224.0,817.9 224.5,817.9 225.0,817.9 225.5,817.9 226.0,818.0 226.5,818.0 227.0,818.0 227.5,818.0 228.0,818.0 228.5,818.1 229.0,818.1 229.5,818.1 230.0,818.1 230.5,818.1 231.0,818.1 231.5,818.1 232.0,818.1 232.5,818.1 233.0,818.2 233.5,818.2 234.0,818.2 234.5,818.2 235.0,818.2 235.5,818.2 236.0,818.2 236.5,818.2 237.0,818.2 237.5,818.2 238.0,818.2 238.5,818.2 239.0,818.2 239.5,818.2 240.0,818.3 240.5,818.3 241.0,818.3 241.5,818.3 242.0,818.3 242.5,818.3 243.0,818.3 243.5,818.3 244.0,818.3 244.5,818.3 245.0,818.3 245.5,818.3 246.0,818.3 246.5,818.3 247.0,818.3 247.5,818.3 248.0,818.3 248.5,818.3 249.0,818.3 249.5,818.3 250.0,818.3 250.5,818.3 251.0,818.3 251.5,818.3 252.0,818.3 252.5,818.3 253.0,818.3 253.5,818.3 254.0,818.4 254.5,818.4 255.0,818.4 255.5,818.4 256.0,818.4 256.5,818.4 257.0,818.4 257.5,818.4 258.0,818.4 258.5,818.4 259.0,818.4 259.5,818.4 260.0,818.4 260.5,818.4 261.0,818.4 261.5,818.4 262.0,818.4 262.5,818.4 263.0,818.4 263.5,818.4 264.0,818.4 264.5,818.4 265.0,818.4 265.5,818.4 266.0,818.4 266.5,818.4 267.0,818.4 267.5,818.4 268.0,818.4 268.5,818.4 269.0,818.4 269.5,818.4 270.0,818.4 270.5,818.4 271.0,818.4 271.5,818.4 272.0,818.4 272.5,818.4 273.0,818.4 273.5,818.4 274.0,818.4 274.5,818.4 275.0,818.4 275.5,818.4 276.0,818.4 276.5,818.4 277.0,818.4 277.5,818.4 278.0,818.4 278.5,818.4 279.0,818.4 279.5,818.4 280.0,818.4 280.5,818.4 281.0,818.4 281.5,818.4 282.0,818.4 282.5,818.4 283.0,818.4 283.5,818.4 284.0,818.4 284.5,818.4 285.0,818.4 285.5,818.4 286.0,818.4 286.5,818.4 287.0,818.4 287.5,818.4 288.0,818.4 288.5,818.4 289.0,818.4 289.5,818.4 290.0,818.4 290.5,818.4 291.0,818.4 291.5,818.4 292.0,818.4 292.5,818.4 293.0,818.4 293.5,818.4 294.0,818.4 294.5,818.4 295.0,818.4 295.5,818.4 296.0,818.4 296.5,818.4 297.0,818.4 297.5,818.4 298.0,818.4 298.5,818.4 299.0,818.4 299.5,818.4 300.0,818.4 300.5,818.4 301.0,818.4 301.5,818.4 302.0,818.4 302.5,818.4 303.0,818.4 303.5,818.4 304.0,818.4 304.5,818.4 305.0,818.4 305.5,818.4 306.0,818.4 306.5,818.4 307.0,818.4 307.5,818.4 308.0,818.4 308.5,818.4 309.0,818.4 309.5,818.4 310.0,818.4 310.5,818.4 311.0,818.4 311.5,818.4 312.0,818.4 312.5,818.4 313.0,818.4 313.5,818.4 314.0,818.4 314.5,818.4 315.0,818.4 315.5,818.4 316.0,818.4 316.5,818.4 317.0,818.4 317.5,818.4 318.0,818.4 318.5,818.4 319.0,818.4 319.5,818.4 320.0,818.4 320.5,818.4 321.0,818.4 321.5,818.4 322.0,818.4 322.5,818.4 323.0,818.4 323.5,818.4 324.0,818.3 324.5,818.3 325.0,818.3 325.5,818.3 326.0,818.3 326.5,818.3 327.0,818.3 327.5,818.3 328.0,818.3 328.5,818.3 329.0,818.3 329.5,818.3 330.0,818.2 330.5,818.2 331.0,818.2 331.5,818.2 332.0,818.2 332.5,818.2 333.0,818.1 333.5,818.1 334.0,818.1 334.5,818.1 335.0,818.0 335.5,818.0 336.0,817.9 336.5,817.9 337.0,817.8 337.5,817.7 338.0,817.6 338.5,817.4 339.0,817.2 339.5,816.8 340.0,816.3 340.5,815.6 341.0,814.7 341.5,813.7 342.0,812.6 342.5,811.6 343.0,810.8 343.5,810.2 344.0,810.0 344.5,810.2 345.0,810.8 345.5,811.6 346.0,812.6 346.5,813.7 347.0,814.7 347.5,815.6 348.0,816.3 348.5,816.8 349.0,817.2 349.5,817.4 350.0,817.6 350.5,817.7 351.0,817.8 351.5,817.9 352.0,817.9 352.5,818.0 353.0,818.0 353.5,818.1 354.0,818.1 354.5,818.1 355.0,818.1 355.5,818.2 356.0,818.2 356.5,818.2 357.0,818.2 357.5,818.2 358.0,818.3 358.5,818.3 359.0,818.3 359.5,818.3 360.0,818.3 360.5,818.3 361.0,818.3 361.5,818.3 362.0,818.3 362.5,818.3 363.0,818.3 363.5,818.4 364.0,818.4 364.5,818.4 365.0,818.4 365.5,818.4 366.0,818.4 366.5,818.4 367.0,818.4 367.5,818.4 368.0,818.4 368.5,818.4 369.0,818.4 369.5,818.4 370.0,818.4 370.5,818.4 371.0,818.4 371.5,818.4 372.0,818.4 372.5,818.4 373.0,818.4 373.5,818.4 374.0,818.4 374.5,818.4 375.0,818.4 375.5,818.4 376.0,818.4 376.5,818.4 377.0,818.4 377.5,818.4 378.0,818.4 378.5,818.4 379.0,818.4 379.5,818.4 380.0,818.4 380.5,818.4 381.0,818.4 381.5,818.4 382.0,818.4 382.5,818.4 383.0,818.4 383.5,818.4 384.0,818.4 384.5,818.4 385.0,818.4 385.5,818.4 386.0,818.5 386.5,818.5 387.0,818.5 387.5,818.5 388.0,818.5 388.5,818.5 389.0,818.5 389.5,818.5 390.0,818.5 390.5,818.5 391.0,818.5 391.5,818.5 392.0,818.5 392.5,818.5 393.0,818.5 393.5,818.5 394.0,818.5 394.5,818.5 395.0,818.5 395.5,818.5 396.0,818.5 396.5,818.5 397.0,818.5 397.5,818.5 398.0,818.5 398.5,818.5 399.0,818.5 399.5,818.5 400.0,818.5 400.5,818.5 401.0,818.5 401.5,818.5 402.0,818.5 402.5,818.5 403.0,818.5 403.5,818.5 404.0,818.5 404.5,818.5 405.0,818.5 405.5,818.5 406.0,818.5 406.5,818.5 407.0,818.5 407.5,818.5 408.0,818.5 408.5,818.5 409.0,818.5 409.5,818.5 410.0,818.5 410.5,818.5 411.0,818.5 411.5,818.5 412.0,818.5 412.5,818.5 413.0,818.5 413.5,818.5 414.0,818.5 414.5,818.5 415.0,818.5 415.5,818.5 416.0,818.5 416.5,818.5 417.0,818.5 417.5,818.5 418.0,818.5 418.5,818.5 419.0,818.5 419.5,818.5 420.0,818.5 420.5,818.5 421.0,818.5 421.5,818.5 422.0,818.5 422.5,818.5 423.0,818.5 423.5,818.5 424.0,818.5 424.5,818.5 425.0,818.5 425.5,818.5 426.0,818.5 426.5,818.5 427.0,818.5 427.5,818.5 428.0,818.5 428.5,818.5 429.0,818.5 429.5,818.5 430.0,818.5 430.5,818.5 431.0,818.5 431.5,818.5 432.0,818.5 432.5,818.5 433.0,818.5 433.5,818.5 434.0,818.5 434.5,818.5 435.0,818.5 435.5,818.4 436.0,818.4 436.5,818.4 437.0,818.4 437.5,818.4 438.0,818.4 438.5,818.4 439.0,818.4 439.5,818.4 440.0,818.4 440.5,818.4 441.0,818.4 441.5,818.4 442.0,818.4 442.5,818.4 443.0,818.4 443.5,818.4 444.0,818.4 444.5,818.4 445.0,818.4 445.5,818.4 446.0,818.3 446.5,818.3 447.0,818.3 447.5,818.3 448.0,818.2 448.5,818.2 449.0,818.1 449.5,817.9 450.0,817.7 450.5,817.4 451.0,817.1 451.5,816.8 452.0,816.5 452.5,816.4 453.0,816.3 453.5,816.4 454.0,816.5 454.5,816.8 455.0,817.1 455.5,817.4 456.0,817.7 456.5,817.9 457.0,818.1 457.5,818.2 458.0,818.2 458.5,818.3 459.0,818.3 459.5,818.3 460.0,818.3 460.5,818.4 461.0,818.4 461.5,818.4 462.0,818.4 462.5,818.4 463.0,818.4 463.5,818.4 464.0,818.4 464.5,818.4 465.0,818.4 465.5,818.4 466.0,818.4 466.5,818.4 467.0,818.4 467.5,818.4 468.0,818.4 468.5,818.4 469.0,818.4 469.5,818.4 470.0,818.5 470.5,818.5 471.0,818.5 471.5,818.5 472.0,818.5 472.5,818.5 473.0,818.5 473.5,818.5 474.0,818.5 474.5,818.5 475.0,818.5 475.5,818.5 476.0,818.5 476.5,818.5 477.0,818.5 477.5,818.5 478.0,818.5 478.5,818.5 479.0,818.5 479.5,818.5 480.0,818.5 480.5,818.5 481.0,818.5 481.5,818.5 482.0,818.5 482.5,818.5 483.0,818.5 483.5,818.5 484.0,818.5 484.5,818.5 485.0,818.5 485.5,818.5 486.0,818.5 486.5,818.5 487.0,818.5 487.5,818.5 488.0,818.5 488.5,818.5 489.0,818.5 489.5,818.5 490.0,818.5 490.5,818.5 491.0,818.5 491.5,818.5 492.0,818.5 492.5,818.5 493.0,818.5 493.5,818.5 494.0,818.5 494.5,818.5 495.0,818.5 495.5,818.5 496.0,818.5 496.5,818.5 497.0,818.5 497.5,818.5 498.0,818.5 498.5,818.5 499.0,818.5 499.5,818.5 500.0,818.5 500.5,818.5 501.0,818.5 501.5,818.5 502.0,818.5 502.5,818.5 503.0,818.5 503.5,818.5 504.0,818.5 504.5,818.5 505.0,818.5 505.5,818.5 506.0,818.5 506.5,818.5 507.0,818.5 507.5,818.5 508.0,818.5 508.5,818.5 509.0,818.5 509.5,818.5 510.0,818.5 510.5,818.5 511.0,818.5 511.5,818.5 512.0,818.5 512.5,818.5 513.0,818.5 513.5,818.5 514.0,818.5 514.5,818.5 515.0,818.5 515.5,818.5 516.0,818.5 516.5,818.5 517.0,818.5 517.5,818.5 518.0,818.5 518.5,818.5 519.0,818.5 519.5,818.5 520.0,818.5 520.5,818.5 521.0,818.5 521.5,818.5 522.0,818.5 522.5,818.5 523.0,818.5 523.5,818.5 524.0,818.5 524.5,818.5 525.0,818.5 525.5,818.5 526.0,818.4 526.5,818.4 527.0,818.4 527.5,818.4 528.0,818.4 528.5,818.4 529.0,818.4 529.5,818.4 530.0,818.4 530.5,818.4 531.0,818.4 531.5,818.4 532.0,818.4 532.5,818.4 533.0,818.4 533.5,818.4 534.0,818.4 534.5,818.4 535.0,818.4 535.5,818.4 536.0,818.4 536.5,818.3 537.0,818.3 537.5,818.3 538.0,818.3 538.5,818.3 539.0,818.3 539.5,818.2 540.0,818.2 540.5,818.2 541.0,818.1 541.5,818.0 542.0,817.9 542.5,817.6 543.0,817.3 543.5,816.8 544.0,816.2 544.5,815.6 545.0,815.0 545.5,814.6 546.0,814.5 546.5,814.6 547.0,815.0 547.5,815.6 548.0,816.2 548.5,816.8 549.0,817.3 549.5,817.6 550.0,817.9 550.5,818.0 551.0,818.1 551.5,818.2 552.0,818.2 552.5,818.2 553.0,818.3 553.5,818.3 554.0,818.3 554.5,818.3 555.0,818.3 555.5,818.3 556.0,818.4 556.5,818.4 557.0,818.4 557.5,818.4 558.0,818.4 558.5,818.4 559.0,818.4 559.5,818.4 560.0,818.4 560.5,818.4 561.0,818.4 561.5,818.4 562.0,818.4 562.5,818.4 563.0,818.4 563.5,818.4 564.0,818.4 564.5,818.4 565.0,818.4 565.5,818.4 566.0,818.4 566.5,818.4 567.0,818.4 567.5,818.4 568.0,818.4 568.5,818.5 569.0,818.5 569.5,818.5 570.0,818.5 570.5,818.5 571.0,818.5 571.5,818.5 572.0,818.5 572.5,818.5 573.0,818.5 573.5,818.5 574.0,818.5 574.5,818.5 575.0,818.5 575.5,818.5 576.0,818.5 576.5,818.5 577.0,818.5 577.5,818.5 578.0,818.5 578.5,818.5 579.0,818.5 579.5,818.5 580.0,818.5 580.5,818.5 581.0,818.5 581.5,818.5 582.0,818.5 582.5,818.5 583.0,818.5 583.5,818.5 584.0,818.5 584.5,818.5 585.0,818.5 585.5,818.5 586.0,818.5 586.5,818.5 587.0,818.5 587.5,818.5 588.0,818.5 588.5,818.4 589.0,818.4 589.5,818.4 590.0,818.4 590.5,818.4 591.0,818.4 591.5,818.4 592.0,818.4 592.5,818.4 593.0,818.4 593.5,818.4 594.0,818.4 594.5,818.4 595.0,818.4 595.5,818.4 596.0,818.4 596.5,818.4 597.0,818.4 597.5,818.4 598.0,818.4 598.5,818.4 599.0,818.4 599.5,818.4 600.0,818.4 600.5,818.4 601.0,818.3 601.5,818.3 602.0,818.3 602.5,818.3 603.0,818.3 603.5,818.2 604.0,818.2 604.5,818.1 605.0,818.0 605.5,817.9 606.0,817.6 606.5,817.3 607.0,816.9 607.5,816.4 608.0,816.0 608.5,815.8 609.0,815.7 609.5,815.8 610.0,816.0 610.5,816.4 611.0,816.9 611.5,817.3 612.0,817.6 612.5,817.8 613.0,818.0 613.5,818.1 614.0,818.2 614.5,818.2 615.0,818.2 615.5,818.2 616.0,818.3 616.5,818.3 617.0,818.3 617.5,818.3 618.0,818.3 618.5,818.3 619.0,818.3 619.5,818.3 620.0,818.3 620.5,818.3 621.0,818.2 621.5,818.2 622.0,818.2 622.5,818.2 623.0,818.2 623.5,818.1 624.0,818.1 624.5,818.0 625.0,817.8 625.5,817.6 626.0,817.3 626.5,816.8 627.0,816.2 627.5,815.6 628.0,815.0 628.5,814.6 629.0,814.5 629.5,814.6 630.0,815.0 630.5,815.6 631.0,816.2 631.5,816.8 632.0,817.3 632.5,817.6 633.0,817.9 633.5,818.0 634.0,818.1 634.5,818.2 635.0,818.2 635.5,818.2 636.0,818.3 636.5,818.3 637.0,818.3 637.5,818.3 638.0,818.3 638.5,818.3 639.0,818.3 639.5,818.4 640.0,818.4 640.5,818.4 641.0,818.4 641.5,818.4 642.0,818.4 642.5,818.4 643.0,818.4 643.5,818.4 644.0,818.4 644.5,818.4 645.0,818.4 645.5,818.4 646.0,818.4 646.5,818.4 647.0,818.4 647.5,818.4 648.0,818.4 648.5,818.4 649.0,818.4 649.5,818.4 650.0,818.4 650.5,818.4 651.0,818.5 651.5,818.5 652.0,818.5 652.5,818.5 653.0,818.5 653.5,818.5 654.0,818.5 654.5,818.5 655.0,818.5 655.5,818.5 656.0,818.5 656.5,818.5 657.0,818.5 657.5,818.5 658.0,818.5 658.5,818.5 659.0,818.5 659.5,818.5 660.0,818.5 660.5,818.5 661.0,818.5 661.5,818.5 662.0,818.5 662.5,818.5 663.0,818.5 663.5,818.5 664.0,818.5 664.5,818.5 665.0,818.5 665.5,818.5 666.0,818.5 666.5,818.5 667.0,818.5 667.5,818.5 668.0,818.5 668.5,818.5 669.0,818.5 669.5,818.5 670.0,818.5 670.5,818.5 671.0,818.5 671.5,818.5 672.0,818.5 672.5,818.5 673.0,818.5 673.5,818.5 674.0,818.5 674.5,818.5 675.0,818.5 675.5,818.5 676.0,818.5 676.5,818.5 677.0,818.5 677.5,818.5 678.0,818.5 678.5,818.5 679.0,818.5 679.5,818.5 680.0,818.5 680.5,818.5 681.0,818.5 681.5,818.5 682.0,818.5 682.5,818.5 683.0,818.5 683.5,818.5 684.0,818.5 684.5,818.5 685.0,818.5 685.5,818.5 686.0,818.4 686.5,818.4 687.0,818.4 687.5,818.4 688.0,818.4 688.5,818.4 689.0,818.4 689.5,818.4 690.0,818.4 690.5,818.4 691.0,818.4 691.5,818.4 692.0,818.4 692.5,818.4 693.0,818.4 693.5,818.4 694.0,818.4 694.5,818.4 695.0,818.4 695.5,818.4 696.0,818.3 696.5,818.3 697.0,818.3 697.5,818.3 698.0,818.2 698.5,818.2 699.0,818.1 699.5,817.9 700.0,817.7 700.5,817.4 701.0,817.1 701.5,816.8 702.0,816.5 702.5,816.3 703.0,816.3 703.5,816.3 704.0,816.5 704.5,816.8 705.0,817.1 705.5,817.4 706.0,817.7 706.5,817.9 707.0,818.1 707.5,818.2 708.0,818.2 708.5,818.3 709.0,818.3 709.5,818.3 710.0,818.3 710.5,818.4 711.0,818.4 711.5,818.4 712.0,818.4 712.5,818.4 713.0,818.4 713.5,818.4 714.0,818.4 714.5,818.4 715.0,818.4 715.5,818.4 716.0,818.4 716.5,818.4 717.0,818.4 717.5,818.4 718.0,818.4 718.5,818.4 719.0,818.4 719.5,818.4 720.0,818.4 720.5,818.4 721.0,818.4 721.5,818.4 722.0,818.4 722.5,818.4 723.0,818.4 723.5,818.4 724.0,818.4 724.5,818.5 725.0,818.5 725.5,818.5 726.0,818.5 726.5,818.5 727.0,818.5 727.5,818.5 728.0,818.5 728.5,818.5 729.0,818.4 729.5,818.4 730.0,818.4 730.5,818.4 731.0,818.4 731.5,818.4 732.0,818.4 732.5,818.4 733.0,818.4 733.5,818.4 734.0,818.4 734.5,818.4 735.0,818.4 735.5,818.4 736.0,818.4 736.5,818.4 737.0,818.4 737.5,818.4 738.0,818.4 738.5,818.4 739.0,818.4 739.5,818.4 740.0,818.4 740.5,818.4 741.0,818.4 741.5,818.4 742.0,818.4 742.5,818.4 743.0,818.4 743.5,818.4 744.0,818.4 744.5,818.4 745.0,818.3 745.5,818.3 746.0,818.3 746.5,818.3 747.0,818.3 747.5,818.3 748.0,818.2 748.5,818.2 749.0,818.2 749.5,818.1 750.0,818.1 750.5,818.0 751.0,817.8 751.5,817.5 752.0,817.1 752.5,816.6 753.0,816.0 753.5,815.3 754.0,814.6 754.5,814.2 755.0,814.0 755.5,814.2 756.0,814.6 756.5,815.3 757.0,816.0 757.5,816.6 758.0,817.2 758.5,817.5 759.0,817.8 759.5,818.0 760.0,818.1 760.5,818.1 761.0,818.2 761.5,818.2 762.0,818.2 762.5,818.3 763.0,818.3 763.5,818.3 764.0,818.3 764.5,818.3 765.0,818.3 765.5,818.4 766.0,818.4 766.5,818.4 767.0,818.4 767.5,818.4 768.0,818.4 768.5,818.4 769.0,818.4 769.5,818.4 770.0,818.4 770.5,818.4 771.0,818.4 771.5,818.4 772.0,818.4 772.5,818.4 773.0,818.4 773.5,818.4 774.0,818.4 774.5,818.4 775.0,818.4 775.5,818.4 776.0,818.4 776.5,818.4 777.0,818.4 777.5,818.5 778.0,818.5 778.5,818.5 779.0,818.5 779.5,818.5 780.0,818.5 780.5,818.5 781.0,818.5 781.5,818.5 782.0,818.5 782.5,818.5 783.0,818.5 783.5,818.5 784.0,818.5 784.5,818.5 785.0,818.5 785.5,818.5 786.0,818.5 786.5,818.5 787.0,818.5 787.5,818.5 788.0,818.5 788.5,818.5 789.0,818.5 789.5,818.5 790.0,818.5 790.5,818.5 791.0,818.5 791.5,818.5 792.0,818.5 792.5,818.5 793.0,818.5 793.5,818.5 794.0,818.5 794.5,818.5 795.0,818.5 795.5,818.5 796.0,818.5 796.5,818.5 797.0,818.5 797.5,818.5 798.0,818.5 798.5,818.5 799.0,818.5 799.5,818.5 800.0,818.5 800.5,818.5 801.0,818.5 801.5,818.5 802.0,818.5 802.5,818.5 803.0,818.5 803.5,818.5 804.0,818.5 804.5,818.5 805.0,818.5 805.5,818.5 806.0,818.5 806.5,818.5 807.0,818.5 807.5,818.5 808.0,818.5 808.5,818.5 809.0,818.5 809.5,818.5 810.0,818.5 810.5,818.5 811.0,818.5 811.5,818.5 812.0,818.5 812.5,818.5 813.0,818.5 813.5,818.5 814.0,818.5 814.5,818.5 815.0,818.5 815.5,818.5 816.0,818.5 816.5,818.5 817.0,818.4 817.5,818.4 818.0,818.4 818.5,818.4 819.0,818.4 819.5,818.4 820.0,818.4 820.5,818.4 821.0,818.4 821.5,818.4 822.0,818.4 822.5,818.4 823.0,818.4 823.5,818.4 824.0,818.4 824.5,818.4 825.0,818.4 825.5,818.4 826.0,818.4 826.5,818.4 827.0,818.4 827.5,818.4 828.0,818.4 828.5,818.4 829.0,818.3 829.5,818.3 830.0,818.3 830.5,818.3 831.0,818.2 831.5,818.1 832.0,818.0 832.5,817.9 833.0,817.7 833.5,817.5 834.0,817.2 834.5,817.0 835.0,816.8 835.5,816.7 836.0,816.7 836.5,816.7 837.0,816.8 837.5,817.0 838.0,817.2 838.5,817.5 839.0,817.7 839.5,817.9 840.0,818.0 840.5,818.1 841.0,818.2 841.5,818.2 842.0,818.3 842.5,818.3 843.0,818.3 843.5,818.3 844.0,818.3 844.5,818.4 845.0,818.4 845.5,818.4 846.0,818.4 846.5,818.4 847.0,818.4 847.5,818.4 848.0,818.4 848.5,818.4 849.0,818.4 849.5,818.4 850.0,818.4 850.5,818.4 851.0,818.4 851.5,818.4 852.0,818.4 852.5,818.4 853.0,818.4 853.5,818.4 854.0,818.4 854.5,818.4 855.0,818.4 855.5,818.4 856.0,818.4 856.5,818.4 857.0,818.4 857.5,818.4 858.0,818.4 858.5,818.4 859.0,818.4 859.5,818.4 860.0,818.4 860.5,818.4 861.0,818.4 861.5,818.4 862.0,818.4 862.5,818.4 863.0,818.4 863.5,818.4 864.0,818.4 864.5,818.4 865.0,818.4 865.5,818.4 866.0,818.4 866.5,818.3 867.0,818.3 867.5,818.3 868.0,818.3 868.5,818.3 869.0,818.3 869.5,818.3 870.0,818.3 870.5,818.3 871.0,818.3 871.5,818.3 872.0,818.3 872.5,818.2 873.0,818.2 873.5,818.2 874.0,818.2 874.5,818.1 875.0,818.1 875.5,818.1 876.0,818.0 876.5,817.9 877.0,817.8 877.5,817.6 878.0,817.4 878.5,817.2 879.0,816.9 879.5,816.6 880.0,816.4 880.5,816.1 881.0,815.9 881.5,815.8 882.0,815.7 882.5,815.8 883.0,815.9 883.5,816.0 884.0,816.3 884.5,816.5 885.0,816.7 885.5,817.0 886.0,817.1 886.5,817.3 887.0,817.4 887.5,817.5 888.0,817.5 888.5,817.5 889.0,817.5 889.5,817.5 890.0,817.4 890.5,817.2 891.0,817.0 891.5,816.6 892.0,816.1 892.5,815.3 893.0,814.3 893.5,813.0 894.0,811.6 894.5,810.2 895.0,809.0 895.5,808.2 896.0,807.9 896.5,808.2 897.0,809.0 897.5,810.3 898.0,811.7 898.5,813.1 899.0,814.4 899.5,815.4 900.0,816.2 900.5,816.7 901.0,817.1 901.5,817.4 902.0,817.5 902.5,817.7 903.0,817.7 903.5,817.8 904.0,817.9 904.5,817.9 905.0,818.0 905.5,818.0 906.0,818.0 906.5,818.1 907.0,818.1 907.5,818.1 908.0,818.1 908.5,818.2 909.0,818.2 909.5,818.2 910.0,818.2 910.5,818.2 911.0,818.3 911.5,818.3 912.0,818.3 912.5,818.3 913.0,818.3 913.5,818.3 914.0,818.3 914.5,818.3 915.0,818.3 915.5,818.3 916.0,818.3 916.5,818.4 917.0,818.4 917.5,818.4 918.0,818.4 918.5,818.4 919.0,818.4 919.5,818.4 920.0,818.4 920.5,818.4 921.0,818.4 921.5,818.4 922.0,818.4 922.5,818.4 923.0,818.4 923.5,818.4 924.0,818.4 924.5,818.4 925.0,818.4 925.5,818.4 926.0,818.4 926.5,818.4 927.0,818.4 927.5,818.4 928.0,818.4 928.5,818.4 929.0,818.4 929.5,818.4 930.0,818.4 930.5,818.4 931.0,818.4 931.5,818.4 932.0,818.4 932.5,818.4 933.0,818.4 933.5,818.4 934.0,818.4 934.5,818.4 935.0,818.4 935.5,818.4 936.0,818.5 936.5,818.5 937.0,818.5 937.5,818.5 938.0,818.5 938.5,818.5 939.0,818.5 939.5,818.5 940.0,818.5 940.5,818.5 941.0,818.5 941.5,818.5 942.0,818.5 942.5,818.5 943.0,818.5 943.5,818.5 944.0,818.5 944.5,818.5 945.0,818.5 945.5,818.5 946.0,818.5 946.5,818.5 947.0,818.5 947.5,818.5 948.0,818.5 948.5,818.5 949.0,818.5 949.5,818.5 950.0,818.5 950.5,818.5 951.0,818.5 951.5,818.5 952.0,818.5 952.5,818.5 953.0,818.5 953.5,818.5 954.0,818.5 954.5,818.5 955.0,818.5 955.5,818.5 956.0,818.5 956.5,818.5 957.0,818.5 957.5,818.5 958.0,818.5 958.5,818.5 959.0,818.5 959.5,818.5 960.0,818.5 960.5,818.5 961.0,818.5 961.5,818.5 962.0,818.5 962.5,818.5 963.0,818.5 963.5,818.5 964.0,818.5 964.5,818.5 965.0,818.5 965.5,818.5 966.0,818.5 966.5,818.5 967.0,818.5 967.5,818.5 968.0,818.5 968.5,818.5 969.0,818.5 969.5,818.5 970.0,818.5 970.5,818.5 971.0,818.5 971.5,818.5 972.0,818.5 972.5,818.5 973.0,818.5 973.5,818.5 974.0,818.5 974.5,818.5 975.0,818.5 975.5,818.5 976.0,818.5 976.5,818.5 977.0,818.5 977.5,818.5 978.0,818.4 978.5,818.4 979.0,818.4 979.5,818.4 980.0,818.4 980.5,818.4 981.0,818.4 981.5,818.4 982.0,818.4 982.5,818.4 983.0,818.4 983.5,818.4 984.0,818.4 984.5,818.4 985.0,818.4 985.5,818.4 986.0,818.4 986.5,818.4 987.0,818.4 987.5,818.4 988.0,818.3 988.5,818.3 989.0,818.3 989.5,818.3 990.0,818.2 990.5,818.2 991.0,818.1 991.5,817.9 992.0,817.7 992.5,817.4 993.0,817.1 993.5,816.8 994.0,816.5 994.5,816.4 995.0,816.3 995.5,816.4 996.0,816.5 996.5,816.8 997.0,817.1 997.5,817.4 998.0,817.7 998.5,817.9 999.0,818.1 999.5,818.2 1000.0,818.2 1000.5,818.3 1001.0,818.3 1001.5,818.3 1002.0,818.3 1002.5,818.4 1003.0,818.4 1003.5,818.4 1004.0,818.4 1004.5,818.4 1005.0,818.4 1005.5,818.4 1006.0,818.4 1006.5,818.4 1007.0,818.4 1007.5,818.4 1008.0,818.4 1008.5,818.4 1009.0,818.4 1009.5,818.4 1010.0,818.4 1010.5,818.4 1011.0,818.4 1011.5,818.4 1012.0,818.4 1012.5,818.5 1013.0,818.5 1013.5,818.5 1014.0,818.5 1014.5,818.5 1015.0,818.5 1015.5,818.5 1016.0,818.5 1016.5,818.5 1017.0,818.5 1017.5,818.5 1018.0,818.5 1018.5,818.5 1019.0,818.5 1019.5,818.5 1020.0,818.5 1020.5,818.5 1021.0,818.5 1021.5,818.5 1022.0,818.5 1022.5,818.5 1023.0,818.5 1023.5,818.5 1024.0,818.5 1024.5,818.5 1025.0,818.5 1025.5,818.5 1026.0,818.5 1026.5,818.5 1027.0,818.5 1027.5,818.5 1028.0,818.5 1028.5,818.5 1029.0,818.5 1029.5,818.5 1030.0,818.5 1030.5,818.5 1031.0,818.5 1031.5,818.5 1032.0,818.5 1032.5,818.5 1033.0,818.5 1033.5,818.5 1034.0,818.5 1034.5,818.5 1035.0,818.5 1035.5,818.5 1036.0,818.5 1036.5,818.5 1037.0,818.5 1037.5,818.5 1038.0,818.5 1038.5,818.5 1039.0,818.5 1039.5,818.5 1040.0,818.4 1040.5,818.4 1041.0,818.4 1041.5,818.4 1042.0,818.4 1042.5,818.4 1043.0,818.4 1043.5,818.4 1044.0,818.4 1044.5,818.4 1045.0,818.4 1045.5,818.4 1046.0,818.4 1046.5,818.4 1047.0,818.4 1047.5,818.4 1048.0,818.4 1048.5,818.4 1049.0,818.4 1049.5,818.4 1050.0,818.4 1050.5,818.4 1051.0,818.4 1051.5,818.3 1052.0,818.3 1052.5,818.3 1053.0,818.3 1053.5,818.3 1054.0,818.3 1054.5,818.2 1055.0,818.2 1055.5,818.1 1056.0,817.9 1056.5,817.7 1057.0,817.5 1057.5,817.1 1058.0,816.7 1058.5,816.4 1059.0,816.0 1059.5,815.8 1060.0,815.7 1060.5,815.8 1061.0,816.0 1061.5,816.3 1062.0,816.7 1062.5,817.1 1063.0,817.5 1063.5,817.7 1064.0,817.9 1064.5,818.1 1065.0,818.2 1065.5,818.2 1066.0,818.2 1066.5,818.3 1067.0,818.3 1067.5,818.3 1068.0,818.3 1068.5,818.3 1069.0,818.3 1069.5,818.3 1070.0,818.4 1070.5,818.4 1071.0,818.4 1071.5,818.4 1072.0,818.4 1072.5,818.4 1073.0,818.4 1073.5,818.4 1074.0,818.4 1074.5,818.4 1075.0,818.4 1075.5,818.4 1076.0,818.4 1076.5,818.4 1077.0,818.4 1077.5,818.4 1078.0,818.4 1078.5,818.4 1079.0,818.4 1079.5,818.4 1080.0,818.4 1080.5,818.4 1081.0,818.4 1081.5,818.4 1082.0,818.4 1082.5,818.4 1083.0,818.4 1083.5,818.4 1084.0,818.4 1084.5,818.3 1085.0,818.3 1085.5,818.3 1086.0,818.3 1086.5,818.3 1087.0,818.3 1087.5,818.3 1088.0,818.3 1088.5,818.3 1089.0,818.2 1089.5,818.2 1090.0,818.2 1090.5,818.2 1091.0,818.1 1091.5,818.1 1092.0,818.0 1092.5,818.0 1093.0,817.9 1093.5,817.7 1094.0,817.5 1094.5,817.1 1095.0,816.6 1095.5,815.8 1096.0,814.8 1096.5,813.8 1097.0,812.9 1097.5,812.2 1098.0,812.0 1098.5,812.2 1099.0,812.9 1099.5,813.8 1100.0,814.8 1100.5,815.8 1101.0,816.6 1101.5,817.1 1102.0,817.5 1102.5,817.7 1103.0,817.9 1103.5,818.0 1104.0,818.0 1104.5,818.1 1105.0,818.1 1105.5,818.2 1106.0,818.2 1106.5,818.2 1107.0,818.2 1107.5,818.3 1108.0,818.3 1108.5,818.3 1109.0,818.3 1109.5,818.3 1110.0,818.3 1110.5,818.3 1111.0,818.4 1111.5,818.4 1112.0,818.4 1112.5,818.4 1113.0,818.4 1113.5,818.4 1114.0,818.4 1114.5,818.4 1115.0,818.4 1115.5,818.4 1116.0,818.4 1116.5,818.4 1117.0,818.4 1117.5,818.4 1118.0,818.4 1118.5,818.4 1119.0,818.4 1119.5,818.4 1120.0,818.4 1120.5,818.4 1121.0,818.4 1121.5,818.4 1122.0,818.4 1122.5,818.4 1123.0,818.4 1123.5,818.4 1124.0,818.4 1124.5,818.4 1125.0,818.4 1125.5,818.4 1126.0,818.4 1126.5,818.4 1127.0,818.4 1127.5,818.5 1128.0,818.5 1128.5,818.5 1129.0,818.5 1129.5,818.5 1130.0,818.5 1130.5,818.5 1131.0,818.5 1131.5,818.5 1132.0,818.5 1132.5,818.5 1133.0,818.5 1133.5,818.5 1134.0,818.5 1134.5,818.5 1135.0,818.5 1135.5,818.5 1136.0,818.5 1136.5,818.5 1137.0,818.5 1137.5,818.5 1138.0,818.4 1138.5,818.4 1139.0,818.4 1139.5,818.4 1140.0,818.4 1140.5,818.4 1141.0,818.4 1141.5,818.4 1142.0,818.4 1142.5,818.4 1143.0,818.4 1143.5,818.4 1144.0,818.4 1144.5,818.4 1145.0,818.4 1145.5,818.4 1146.0,818.4 1146.5,818.4 1147.0,818.4 1147.5,818.4 1148.0,818.4 1148.5,818.4 1149.0,818.4 1149.5,818.4 1150.0,818.4 1150.5,818.4 1151.0,818.3 1151.5,818.3 1152.0,818.3 1152.5,818.3 1153.0,818.2 1153.5,818.2 1154.0,818.1 1154.5,817.9 1155.0,817.7 1155.5,817.4 1156.0,817.1 1156.5,816.8 1157.0,816.5 1157.5,816.3 1158.0,816.3 1158.5,816.3 1159.0,816.5 1159.5,816.8 1160.0,817.1 1160.5,817.4 1161.0,817.7 1161.5,817.9 1162.0,818.1 1162.5,818.2 1163.0,818.2 1163.5,818.3 1164.0,818.3 1164.5,818.3 1165.0,818.3 1165.5,818.3 1166.0,818.4 1166.5,818.4 1167.0,818.4 1167.5,818.4 1168.0,818.4 1168.5,818.4 1169.0,818.4 1169.5,818.4 1170.0,818.4 1170.5,818.4 1171.0,818.4 1171.5,818.4 1172.0,818.4 1172.5,818.4 1173.0,818.4 1173.5,818.4 1174.0,818.4 1174.5,818.4 1175.0,818.4 1175.5,818.4 1176.0,818.4 1176.5,818.4 1177.0,818.4 1177.5,818.4 1178.0,818.4 1178.5,818.4 1179.0,818.4 1179.5,818.4 1180.0,818.4 1180.5,818.4 1181.0,818.4 1181.5,818.4 1182.0,818.4 1182.5,818.4 1183.0,818.4 1183.5,818.4 1184.0,818.4 1184.5,818.4 1185.0,818.3 1185.5,818.3 1186.0,818.3 1186.5,818.3 1187.0,818.3 1187.5,818.3 1188.0,818.2 1188.5,818.2 1189.0,818.2 1189.5,818.1 1190.0,817.9 1190.5,817.7 1191.0,817.4 1191.5,817.0 1192.0,816.5 1192.5,816.0 1193.0,815.5 1193.5,815.1 1194.0,815.0 1194.5,815.1 1195.0,815.5 1195.5,816.0 1196.0,816.5 1196.5,817.0 1197.0,817.4 1197.5,817.7 1198.0,818.0 1198.5,818.1 1199.0,818.2 1199.5,818.2 1200.0,818.2 1200.5,818.3 1201.0,818.3 1201.5,818.3 1202.0,818.3 1202.5,818.3 1203.0,818.4 1203.5,818.4 1204.0,818.4 1204.5,818.4 1205.0,818.4 1205.5,818.4 1206.0,818.4 1206.5,818.4 1207.0,818.4 1207.5,818.4 1208.0,818.4 1208.5,818.4 1209.0,818.4 1209.5,818.4 1210.0,818.4 1210.5,818.4 1211.0,818.4 1211.5,818.4 1212.0,818.4 1212.5,818.4 1213.0,818.4 1213.5,818.5 1214.0,818.5 1214.5,818.5 1215.0,818.5 1215.5,818.5 1216.0,818.5 1216.5,818.5 1217.0,818.5 1217.5,818.5 1218.0,818.5 1218.5,818.5 1219.0,818.5 1219.5,818.5 1220.0,818.5 1220.5,818.5 1221.0,818.5 1221.5,818.5 1222.0,818.5 1222.5,818.5 1223.0,818.5 1223.5,818.5 1224.0,818.5 1224.5,818.5 1225.0,818.5 1225.5,818.5 1226.0,818.5 1226.5,818.5 1227.0,818.5 1227.5,818.5 1228.0,818.5 1228.5,818.5 1229.0,818.5 1229.5,818.5 1230.0,818.5 1230.5,818.5 1231.0,818.5 1231.5,818.5 1232.0,818.5 1232.5,818.5 1233.0,818.5 1233.5,818.5 1234.0,818.5 1234.5,818.5 1235.0,818.4 1235.5,818.4 1236.0,818.4 1236.5,818.4 1237.0,818.4 1237.5,818.4 1238.0,818.4 1238.5,818.4 1239.0,818.4 1239.5,818.4 1240.0,818.4 1240.5,818.4 1241.0,818.4 1241.5,818.4 1242.0,818.4 1242.5,818.4 1243.0,818.4 1243.5,818.4 1244.0,818.4 1244.5,818.3 1245.0,818.3 1245.5,818.3 1246.0,818.2 1246.5,818.2 1247.0,818.1 1247.5,817.9 1248.0,817.7 1248.5,817.4 1249.0,817.1 1249.5,816.8 1250.0,816.5 1250.5,816.4 1251.0,816.3 1251.5,816.4 1252.0,816.5 1252.5,816.8 1253.0,817.1 1253.5,817.4 1254.0,817.7 1254.5,817.9 1255.0,818.1 1255.5,818.2 1256.0,818.2 1256.5,818.3 1257.0,818.3 1257.5,818.3 1258.0,818.4 1258.5,818.4 1259.0,818.4 1259.5,818.4 1260.0,818.4 1260.5,818.4 1261.0,818.4 1261.5,818.4 1262.0,818.4 1262.5,818.4 1263.0,818.4 1263.5,818.4 1264.0,818.4 1264.5,818.4 1265.0,818.4 1265.5,818.4 1266.0,818.5 1266.5,818.5 1267.0,818.5 1267.5,818.5 1268.0,818.5 1268.5,818.5 1269.0,818.5 1269.5,818.5 1270.0,818.5"/>
<g fill="#000"><rect x="58.2" y="868.9" width="1213.8" height="5"/><rect x="58.2" y="843.4" width="5.2" height="29.6" rx="2.4"/><rect x="158.9" y="856" width="5.2" height="17.0" rx="2.4"/><rect x="259.6" y="843.4" width="5.2" height="29.6" rx="2.4"/><rect x="360.4" y="856" width="5.2" height="17.0" rx="2.4"/><rect x="461.1" y="843.4" width="5.2" height="29.6" rx="2.4"/><rect x="561.8" y="856" width="5.2" height="17.0" rx="2.4"/><rect x="662.5" y="843.4" width="5.2" height="29.6" rx="2.4"/><rect x="763.2" y="856" width="5.2" height="17.0" rx="2.4"/><rect x="863.9" y="843.4" width="5.2" height="29.6" rx="2.4"/><rect x="964.7" y="856" width="5.2" height="17.0" rx="2.4"/><rect x="1065.4" y="843.4" width="5.2" height="29.6" rx="2.4"/><rect x="1166.1" y="856" width="5.2" height="17.0" rx="2.4"/><rect x="1266.8" y="843.4" width="5.2" height="29.6" rx="2.4"/></g>
<rect x="858" y="0" width="1" height="1039" fill="#fff" shape-rendering="crispEdges"/>
<g><text x="50.48" y="934.8" textLength="27.28" lengthAdjust="spacingAndGlyphs">5</text><text x="227.91" y="934.8" textLength="55.69" lengthAdjust="spacingAndGlyphs">10</text><text x="432.36" y="934.8" textLength="53.77" lengthAdjust="spacingAndGlyphs">15</text><text x="632.33" y="934.8" textLength="59.28" lengthAdjust="spacingAndGlyphs">20</text><text x="836.29" y="934.8" textLength="57.98" lengthAdjust="spacingAndGlyphs">25</text><text x="1041.69" y="934.8" textLength="57.98" lengthAdjust="spacingAndGlyphs">30</text><text x="1231.05" y="934.8" textLength="56.78" lengthAdjust="spacingAndGlyphs">35</text></g>
<text x="745.17" y="150.2" textLength="399.72" lengthAdjust="spacingAndGlyphs">Zr–MOF/ACF18</text>
<text x="811.85" y="744" textLength="190.76" lengthAdjust="spacingAndGlyphs">UiO–66</text>
<text y="1005"><tspan x="594.62" textLength="31.87" lengthAdjust="spacingAndGlyphs">2</tspan><tspan x="627.33" y="1005.6" font-style="italic" style="font-size:56px" textLength="31.82" lengthAdjust="spacingAndGlyphs">θ</tspan><tspan x="654.0" y="1005" textLength="77.86" lengthAdjust="spacingAndGlyphs">/(°)</tspan></text>
</svg>
</body></html>
